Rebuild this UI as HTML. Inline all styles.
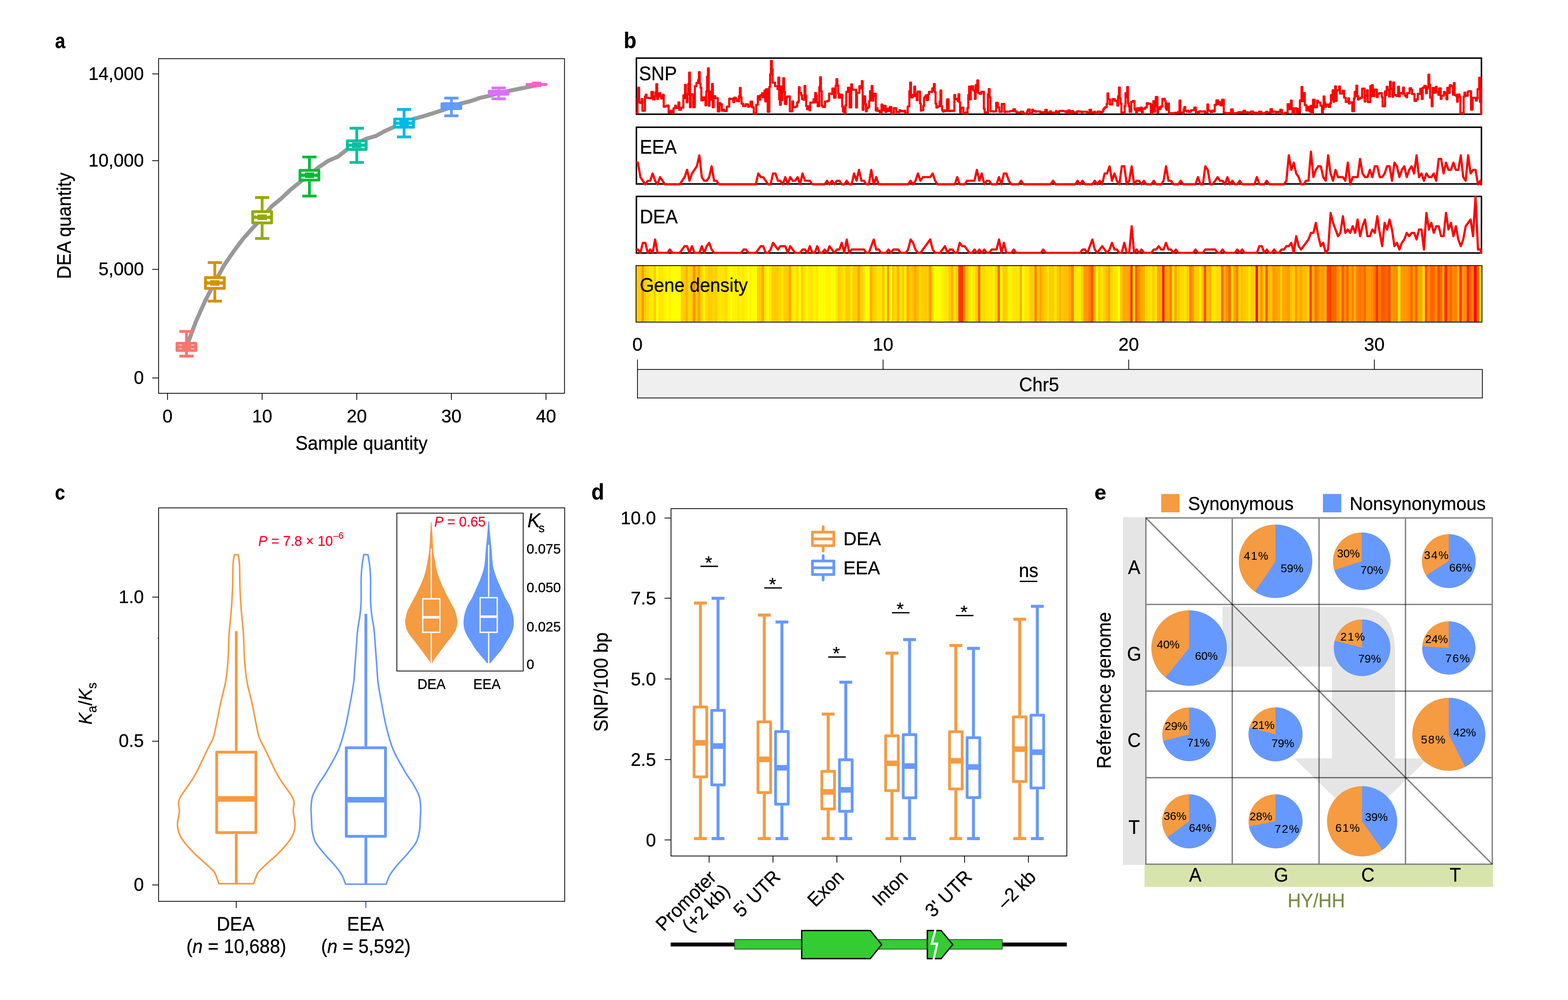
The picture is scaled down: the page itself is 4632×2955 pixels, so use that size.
<!DOCTYPE html>
<html lang="en"><head><meta charset="utf-8"><title>Figure</title>
<style>html,body{margin:0;padding:0;background:#fff}svg{display:block}text{font-family:'Liberation Sans', sans-serif;stroke-width:0.5px;stroke-linejoin:round}</style>
</head><body>
<svg width="4632" height="2955" viewBox="0 0 4632 2955">
<rect width="4632" height="2955" fill="#fff"/>
<!-- panel a -->
<text font-size="100" font-weight="bold" stroke="#000" transform="translate(162.6 141.9) scale(0.5453 0.6255)">a</text>
<path d="M550.8 1025 L578.8 950 L606.7 887.5 L634.6 834 L662.6 783 L690.5 742.5 L718.5 705 L746.4 674 L774.4 644 L802.3 610 L830.3 587 L858.2 560.6 L886.2 538 L914.1 516 L942.1 494 L970 475 L998 463 L1025.9 441 L1053.9 424 L1081.8 410 L1109.8 402 L1137.8 386.7 L1165.7 374.2 L1193.7 363.7 L1221.6 351.6 L1249.5 343.7 L1277.5 335.2 L1305.4 326.2 L1333.4 316.8 L1361.3 305.9 L1389.3 299.2 L1417.2 289.5 L1445.2 283.2 L1473.2 275.8 L1501.1 269.1 L1529 263.3 L1557 257.8 L1584.9 252" fill="none" stroke="#999999" stroke-width="12" stroke-linejoin="round" stroke-linecap="butt"/>
<g stroke="#F8766D" stroke-width="8.2" fill="none" stroke-linejoin="round">
<path d="M550.8 979.3V1010.2M550.8 1039.8V1052.3M529.8 979.3H571.8M529.8 1052.3H571.8"/>
<rect x="522.9" y="1014.3" width="55.8" height="21.4" fill="#fff"/>
<path d="M522.9 1023.4L536.8 1025L522.9 1026.6M578.7 1023.4L564.8 1025L578.7 1026.6"/>
<path d="M536.8 1025H564.8" stroke-width="16.4" stroke-linecap="butt"/>
</g>
<g stroke="#D39200" stroke-width="8.2" fill="none" stroke-linejoin="round">
<path d="M634.6 775.8V816.2M634.6 856.3V889.8M613.6 775.8H655.6M613.6 889.8H655.6"/>
<rect x="606.8" y="820.3" width="55.8" height="31.9" fill="#fff"/>
<path d="M606.8 834.6L620.6 836.2L606.8 837.9M662.5 834.6L648.6 836.2L662.5 837.9"/>
<path d="M620.6 836.2H648.6" stroke-width="16.4" stroke-linecap="butt"/>
</g>
<g stroke="#93AA00" stroke-width="8.2" fill="none" stroke-linejoin="round">
<path d="M774.4 583.6V621.3M774.4 662.8V704.7M753.4 583.6H795.4M753.4 704.7H795.4"/>
<rect x="746.5" y="625.4" width="55.8" height="33.3" fill="#fff"/>
<path d="M746.5 640.4L760.4 642L746.5 643.6M802.3 640.4L788.4 642L802.3 643.6"/>
<path d="M760.4 642H788.4" stroke-width="16.4" stroke-linecap="butt"/>
</g>
<g stroke="#00BA38" stroke-width="8.2" fill="none" stroke-linejoin="round">
<path d="M914.1 464V499.2M914.1 536.3V579.3M893.1 464H935.1M893.1 579.3H935.1"/>
<rect x="886.2" y="503.3" width="55.8" height="28.9" fill="#fff"/>
<path d="M886.2 516.1L900.1 517.8L886.2 519.4M942 516.1L928.1 517.8L942 519.4"/>
<path d="M900.1 517.8H928.1" stroke-width="16.4" stroke-linecap="butt"/>
</g>
<g stroke="#00C19F" stroke-width="8.2" fill="none" stroke-linejoin="round">
<path d="M1053.9 378.9V412.1M1053.9 445.7V480M1032.9 378.9H1074.9M1032.9 480H1074.9"/>
<rect x="1026" y="416.2" width="55.8" height="25.4" fill="#fff"/>
<path d="M1026 427.3L1039.9 428.9L1026 430.5M1081.8 427.3L1067.9 428.9L1081.8 430.5"/>
<path d="M1039.9 428.9H1067.9" stroke-width="16.4" stroke-linecap="butt"/>
</g>
<g stroke="#00B9E3" stroke-width="8.2" fill="none" stroke-linejoin="round">
<path d="M1193.7 323.4V347.7M1193.7 380V404.7M1172.7 323.4H1214.7M1172.7 404.7H1214.7"/>
<rect x="1165.8" y="351.8" width="55.8" height="24.1" fill="#fff"/>
<path d="M1165.8 362.2L1179.7 363.9L1165.8 365.5M1221.6 362.2L1207.7 363.9L1221.6 365.5"/>
<path d="M1179.7 363.9H1207.7" stroke-width="16.4" stroke-linecap="butt"/>
</g>
<g stroke="#619CFF" stroke-width="8.2" fill="none" stroke-linejoin="round">
<path d="M1333.4 289.8V302.3M1333.4 325V342.2M1312.4 289.8H1354.4M1312.4 342.2H1354.4"/>
<rect x="1305.5" y="306.4" width="55.8" height="14.5" fill="#fff"/>
<path d="M1305.5 312L1319.4 313.6L1305.5 315.2M1361.3 312L1347.4 313.6L1361.3 315.2"/>
<path d="M1319.4 313.6H1347.4" stroke-width="14.5" stroke-linecap="butt"/>
</g>
<g stroke="#DB72FB" stroke-width="8.2" fill="none" stroke-linejoin="round">
<path d="M1473.2 259.8V265.6M1473.2 282.4V291.8M1452.2 259.8H1494.2M1452.2 291.8H1494.2"/>
<rect x="1445.2" y="269.7" width="55.8" height="8.6" fill="#fff"/>
<rect x="1445.2" y="269.7" width="55.8" height="8.6" fill="#DB72FB"/>
</g>
<g stroke="#FF61C3" fill="#FF61C3" stroke-linejoin="round" stroke-linecap="round">
<path d="M1556.9 249.6H1612.9" stroke-width="8.6" fill="none"/>
<rect x="1571.2" y="241.4" width="27.4" height="16" stroke="none"/>
</g>
<rect x="468.5" y="173.4" width="1199.1" height="988.8" fill="none" stroke="#000" stroke-width="2.3"/>
<line x1="449.5" y1="218.4" x2="468.5" y2="218.4" stroke="#000" stroke-width="2.3"/>
<text x="425" y="235.6" font-size="53.5" text-anchor="end" stroke="#000">14,000</text>
<line x1="449.5" y1="474.9" x2="468.5" y2="474.9" stroke="#000" stroke-width="2.3"/>
<text x="425" y="492.1" font-size="53.5" text-anchor="end" stroke="#000">10,000</text>
<line x1="449.5" y1="796" x2="468.5" y2="796" stroke="#000" stroke-width="2.3"/>
<text x="425" y="813.2" font-size="53.5" text-anchor="end" stroke="#000">5,000</text>
<line x1="449.5" y1="1116.9" x2="468.5" y2="1116.9" stroke="#000" stroke-width="2.3"/>
<text x="425" y="1134.1" font-size="53.5" text-anchor="end" stroke="#000">0</text>
<line x1="494.9" y1="1162.2" x2="494.9" y2="1181.7" stroke="#000" stroke-width="2.3"/>
<text x="494.9" y="1248.2" font-size="53.5" text-anchor="middle" stroke="#000">0</text>
<line x1="774.4" y1="1162.2" x2="774.4" y2="1181.7" stroke="#000" stroke-width="2.3"/>
<text x="774.4" y="1248.2" font-size="53.5" text-anchor="middle" stroke="#000">10</text>
<line x1="1053.9" y1="1162.2" x2="1053.9" y2="1181.7" stroke="#000" stroke-width="2.3"/>
<text x="1053.9" y="1248.2" font-size="53.5" text-anchor="middle" stroke="#000">20</text>
<line x1="1333.4" y1="1162.2" x2="1333.4" y2="1181.7" stroke="#000" stroke-width="2.3"/>
<text x="1333.4" y="1248.2" font-size="53.5" text-anchor="middle" stroke="#000">30</text>
<line x1="1612.9" y1="1162.2" x2="1612.9" y2="1181.7" stroke="#000" stroke-width="2.3"/>
<text x="1612.9" y="1248.2" font-size="53.5" text-anchor="middle" stroke="#000">40</text>
<text font-size="56.8" text-anchor="middle" stroke="#000" transform="translate(1068 1328.5) scale(0.9588 1)">Sample quantity</text>
<text font-size="56.8" text-anchor="middle" stroke="#000" transform="translate(208.5 667) rotate(-90) scale(0.9588 1)">DEA quantity</text>
<!-- panel b -->
<text font-size="100" font-weight="bold" stroke="#000" transform="translate(1842.6 141.7) scale(0.6139 0.6653)">b</text>
<g fill="none" stroke="#FF0000" stroke-linejoin="round" stroke-linecap="round">
</g>
<rect x="1880" y="171.7" width="2496.3" height="165.8" fill="none" stroke="#000" stroke-width="4.4"/>
<rect x="1880" y="376" width="2496.3" height="167.6" fill="none" stroke="#000" stroke-width="4.4"/>
<rect x="1880" y="580.4" width="2496.3" height="167.2" fill="none" stroke="#000" stroke-width="4.4"/>
<g fill="none" stroke="#FF0000" stroke-linejoin="round" stroke-linecap="round">
<path d="M1882 333.3V333.3H1883.3V292.2H1885.7V259.2H1888.1V302.2H1890.5V304.2H1895.4V292.9H1897.8V327.2H1905.1V285.8H1907.5V279.5H1909.9V289H1917.2V290.1H1924.4V271.5H1929.2V294H1934.1V284.7H1936.5V272.8H1938.9V248.5H1941.3V292.5H1943.8V286H1946.2V275.7H1951V284.4H1953.4V291.1H1958.3V279.9H1960.7V315.4H1965.5V314H1970.4V311.9H1975.2V332.5H1980V328.1H1982.5V327.2H1984.9V333.9H1989.7V319.9H1994.5V312.2H1997V317.6H1999.4V319H2004.2V302.7H2006.6V324.4H2011.5V318.1H2018.7V281.7H2021.2V290.2H2023.6V250.6H2026V278.1H2028.4V302.4H2030.8V279.2H2033.2V247.9H2035.7V214.6H2038.1V316.8H2040.5V278.8H2047.8V316.7H2052.6V254.7H2057.4V245.2H2062.3V236.3H2064.7V213.1H2067.1V246.7H2069.5V259.3H2071.9V297H2074.4V287.8H2076.8V295.6H2079.2V287.6H2084V311.2H2086.5V270.1H2088.9V226.4H2091.3V201.9H2093.7V312.2H2096.1V270.5H2098.6V294.4H2101V280.5H2103.4V248.1H2105.8V317.2H2108.2V284.2H2113.1V290.1H2120.3V329.2H2125.2V304.7H2127.6V310H2130V308.1H2132.4V327.1H2134.8V324.1H2139.7V328.1H2146.9V315.1H2154.2V291.5H2159V293.1H2163.9V292H2166.3V302H2168.7V288.7H2173.5V292H2175.9V297.8H2180.8V299.2H2183.2V284H2185.6V259.9H2188V287.9H2190.5V306.4H2195.3V313.4H2202.6V308.2H2209.8V315.6H2212.2V314H2217.1V300.2H2221.9V317.1H2226.7V335.1H2234V309.6H2238.8V284.2H2243.7V294.6H2246.1V281.3H2250.9V275.5H2253.3V287.5H2258.2V267.7H2260.6V299.6H2263V263.7H2267.9V330.3H2272.7V256.9H2275.1V219.5H2277.5V179.9H2280V204.5H2282.4V244.3H2289.6V254.6H2296.9V263.2H2299.3V229.2H2301.7V293.8H2304.1V309.7H2306.6V255.6H2309V295.9H2311.4V269.4H2313.8V231.1H2316.2V271.2H2318.7V307.2H2323.5V287.1H2325.9V284.9H2333.2V328.8H2340.4V299.5H2342.8V317H2350.1V314.7H2354.9V303.5H2357.3V300.5H2359.8V257.6H2362.2V274.3H2367V281.3H2369.4V293.1H2374.3V294.7H2376.7V254H2379.1V282.5H2381.5V313.6H2384V322.6H2386.4V314.2H2391.2V326H2393.6V303.2H2403.3V293.4H2405.7V302.3H2408.1V274.7H2410.6V281.9H2413V302.4H2415.4V313.7H2420.2V257.2H2422.7V228H2425.1V269.7H2427.5V312H2429.9V316H2437.2V299.9H2444.4V297.8H2449.3V276.7H2456.5V277.2H2458.9V261.6H2463.8V288.7H2468.6V252.9H2471V233.9H2473.4V252.1H2475.9V276.7H2478.3V288.7H2483.1V279.5H2488V314.8H2490.4V330H2492.8V317.6H2495.2V335.1H2497.6V311H2500.1V271.4H2504.9V259.4H2509.7V317.5H2514.6V249.1H2517V262.4H2519.4V265.2H2529.1V317.7H2531.5V274.1H2538.7V254.6H2543.6V261.4H2546V239.7H2548.4V324.6H2550.8V304H2553.3V284.7H2555.7V306.9H2558.1V329.2H2560.5V319H2565.4V315.7H2567.8V298H2570.2V269.3H2572.6V296H2575V254.2H2577.4V297.5H2579.9V284.6H2582.3V277H2587.1V326.6H2589.5V319.5H2592V327.6H2599.2V335.1H2601.6V332.7H2604.1V308.9H2606.5V325.9H2611.3V312.6H2616.1V330.8H2618.6V321.2H2623.4V327.8H2628.2V316.2H2633.1V335.1H2640.3V319.5H2645.2V319.8H2647.6V331H2657.3V325.3H2659.7V328.6H2664.5V327.6H2666.9V329.2H2671.8V327.2H2674.2V334.1H2681.5V314.5H2686.3V268.8H2688.7V243.8H2691.1V287.6H2696V280.4H2698.4V284.1H2700.8V255.9H2703.2V278H2705.6V284.5H2708.1V296.2H2710.5V270.7H2717.7V305.1H2720.1V326.8H2722.6V325.5H2727.4V312.8H2729.8V288.6H2732.2V286.1H2734.7V281.5H2737.1V295.6H2741.9V279.1H2744.3V271.4H2749.2V271.5H2754V261.2H2756.4V265.6H2758.8V248.2H2761.3V271.9H2763.7V306.3H2766.1V317.9H2768.5V316.4H2770.9V314H2775.8V299.8H2778.2V267.3H2780.6V313.3H2783V325.6H2785.5V329.8H2787.9V326H2792.7V328.2H2797.5V293.7H2802.4V328.1H2809.6V326.6H2812.1V327.7H2819.3V280.6H2821.7V293H2826.6V291.9H2829V298.2H2831.4V278.5H2833.8V302.4H2836.2V332H2838.7V318.1H2845.9V334.3H2853.2V332.1H2855.6V335.1H2858V319.2H2860.4V280.6H2862.9V255.9H2865.3V293.7H2867.7V263H2870.1V254.8H2874.9V267.3H2879.8V291.9H2882.2V251.3H2884.6V270.5H2887V237.5H2889.5V274.5H2891.9V275.1H2894.3V277.1H2899.1V271.2H2906.4V321.4H2908.8V332.5H2913.6V331.9H2918.5V279.1H2920.9V263H2923.3V287.4H2925.7V328.5H2933V329.6H2937.8V329H2942.7V303.7H2947.5V317H2952.3V330.3H2959.6V307.2H2966.9V330.8H2971.7V329.8H2976.5V329.9H2981.4V329.4H2983.8V328.2H2993.5V322.6H2998.3V329.4H3003.1V332H3008V332.7H3010.4V333H3015.2V330H3022.5V335.1H3034.6V328H3037V323.6H3041.8V335.1H3049.1V323.8H3051.5V327H3053.9V328.2H3058.8V330.2H3061.2V329H3068.4V329.4H3073.3V332.7H3078.1V331.6H3087.8V324.7H3092.6V332.5H3099.9V331.6H3102.3V328.8H3104.7V333H3109.6V332.8H3114.4V334H3119.2V328.2H3121.6V334.2H3124.1V331.7H3128.9V327.9H3136.2V327.6H3141V328.5H3145.8V330.2H3148.3V328.8H3150.7V332.8H3153.1V333.9H3155.5V326.4H3160.3V333.9H3165.2V328.9H3167.6V327.8H3170V331.2H3172.4V332.3H3182.1V328.8H3187V329.8H3189.4V329.5H3194.2V331.3H3199V330.1H3211.1V333.5H3218.4V324.4H3223.2V332.9H3230.5V330.7H3232.9V330.1H3235.3V334.2H3237.7V334.4H3242.6V329.6H3249.8V332H3252.3V331.5H3257.1V328.8H3259.5V322.2H3261.9V319.3H3264.3V316.9H3269.2V306.7H3271.6V276.2H3274V294H3278.9V308.7H3286.1V292.9H3293.4V298.1H3300.6V312.1H3303V284.3H3305.5V258.6H3307.9V290.4H3310.3V305.5H3312.7V332.4H3320V334.1H3322.4V313H3324.8V275.1H3327.2V286.9H3329.7V257H3332.1V305H3334.5V314.2H3336.9V330.4H3341.7V301H3346.6V298.4H3351.4V321.4H3353.8V325.3H3356.3V335H3358.7V319.9H3363.5V326.7H3368.4V318.3H3373.2V335.1H3375.6V321.4H3382.9V317.4H3387.7V304.8H3392.5V306.9H3399.8V335.1H3404.6V309.5H3407.1V298.9H3409.5V330H3411.9V314.2H3414.3V286.7H3419.1V331.8H3421.6V317.3H3426.4V321.9H3428.8V314.6H3433.7V292H3440.9V298.4H3443.3V319.4H3445.7V324.4H3448.2V305.8H3453V335H3457.8V334.4H3465.1V334.7H3469.9V333.4H3474.8V333.8H3479.6V331.2H3484.4V297H3486.9V332.6H3494.1V335.1H3496.5V322.5H3499V316.1H3501.4V327.6H3506.2V329.4H3508.6V327.3H3511.1V330.3H3518.3V325.6H3528V317.8H3532.8V333.9H3535.2V331.6H3540.1V334.1H3542.5V329.2H3544.9V328.9H3549.8V329.8H3557V328.5H3559.4V333.2H3566.7V308.5H3569.1V326.7H3573.9V328H3576.4V331H3581.2V326.5H3583.6V329.5H3588.5V309.7H3593.3V296.6H3598.1V307.4H3600.5V301.5H3605.4V311.3H3610.2V294.7H3615.1V332.8H3619.9V334.7H3627.1V334.1H3636.8V323.3H3641.7V334.6H3646.5V334.3H3651.3V334.2H3656.2V332.8H3658.6V331.4H3665.8V332H3673.1V327.4H3675.5V327.2H3677.9V331.5H3685.2V332.3H3690V334.5H3694.9V329.7H3702.1V335.1H3707V333.1H3711.8V334.7H3719.1V330.2H3726.3V334.9H3731.2V335.1H3733.6V334.4H3738.4V332.1H3740.8V329.9H3743.2V332.7H3752.9V322.7H3757.8V331H3762.6V329.7H3767.4V329.9H3769.9V334.2H3774.7V330.4H3779.5V330.9H3781.9V324.3H3786.8V335.1H3796.5V333.1H3803.7V307.9H3808.5V322.3H3813.4V297H3815.8V320H3818.2V335.1H3823.1V320.2H3830.3V334.2H3832.7V322.1H3835.2V332.7H3840V296.7H3842.4V298.7H3844.8V256.8H3847.2V285.2H3849.7V298.7H3852.1V275.1H3854.5V310.9H3859.3V326.5H3864.2V316.2H3869V329.4H3871.4V312.6H3873.9V335.1H3878.7V294.6H3883.5V317H3890.8V297.3H3893.2V302.8H3900.5V311.8H3905.3V332.8H3907.7V322.4H3910.1V285.1H3912.6V303.3H3915V315.5H3917.4V308.8H3924.6V315.8H3929.5V305.2H3931.9V280.7H3934.3V293.4H3936.7V266.8H3939.2V300.5H3941.6V288.4H3944V255.1H3946.4V298H3948.8V266.7H3956.1V255.5H3958.5V276.5H3965.8V268.1H3970.6V288.5H3975.4V300.9H3982.7V290.6H3985.1V306H3987.5V302.3H3994.8V328.7H3999.6V290.6H4002V271.4H4004.5V284.7H4006.9V253.2H4009.3V284H4011.7V294.1H4014.1V290.9H4019V288.8H4023.8V261.8H4031.1V300H4033.5V282.5H4038.3V266.5H4040.7V301.6H4048V254.3H4050.4V284.3H4052.8V251.7H4055.3V283.9H4060.1V264.6H4067.3V286.8H4069.8V276.8H4074.6V275.1H4081.9V287.6H4084.3V314.2H4091.5V270.1H4094V280.4H4096.4V256.3H4098.8V265.5H4103.6V285.4H4106V241.4H4108.5V261.8H4113.3V285.8H4115.7V243.7H4118.1V280.1H4120.6V281.1H4125.4V284H4130.2V256H4132.7V284.7H4135.1V274.9H4142.3V277H4144.7V258.9H4147.2V276.5H4149.6V282.8H4154.4V287.5H4156.8V275.2H4164.1V260.8H4168.9V265H4171.3V278H4178.6V298.3H4183.4V293.6H4188.3V277.3H4195.5V262.4H4200.4V292.5H4202.8V258.9H4207.6V253.8H4212.5V275.8H4214.9V262.9H4217.3V258.3H4219.7V220.5H4222.1V249.4H4224.6V288.4H4229.4V314H4231.8V260.2H4236.7V273.9H4241.5V256.3H4243.9V271.9H4248.7V280.1H4251.2V261H4256V292.3H4258.4V282.6H4265.7V271.4H4268.1V275.8H4272.9V293.6H4275.4V259.3H4277.8V272.8H4280.2V274.6H4282.6V251.9H4287.4V255.2H4292.3V280.2H4294.7V245.4H4297.1V280.6H4302V284.5H4304.4V300.5H4306.8V279H4311.6V285.5H4314.1V334.9H4316.5V334.1H4321.3V335.1H4323.7V285.7H4326.1V273.8H4328.6V283H4335.8V270.9H4338.2V269.6H4345.5V324H4350.3V289.1H4355.2V288.9H4360V297.4H4362.4V291.6H4364.8V263.4H4367.3V262.7H4369.7V229.5H4372.1V301.2H4374.5V263.4H4375.3V337.3" stroke-width="6.2"/>
<path d="M1882.5 480.5 L1884.5 480.5 L1891.8 523.4 L1899 534.1 L1906.3 544.8 L1913.5 534.1 L1920.8 534.1 L1928 512.6 L1935.3 534.1 L1942.5 544.8 L1949.8 523.4 L1957.1 534.1 L1964.3 544.8 L1971.6 544.8 L1978.8 544.8 L1986.1 544.8 L1993.3 544.8 L2000.6 544.8 L2007.9 544.8 L2015.1 534.1 L2022.4 523.4 L2029.6 501.9 L2036.9 534.1 L2044.1 512.6 L2051.4 501.9 L2058.6 491.2 L2065.9 459 L2073.2 523.4 L2080.4 534.1 L2087.7 534.1 L2094.9 523.4 L2102.2 491.2 L2109.4 534.1 L2116.7 534.1 L2123.9 544.8 L2131.2 544.8 L2138.5 544.8 L2145.7 544.8 L2153 544.8 L2160.2 544.8 L2167.5 544.8 L2174.7 544.8 L2182 544.8 L2189.3 544.8 L2196.5 544.8 L2203.8 544.8 L2211 544.8 L2218.3 544.8 L2225.5 544.8 L2232.8 544.8 L2240 512.6 L2247.3 523.4 L2254.6 523.4 L2261.8 534.1 L2269.1 544.8 L2276.3 544.8 L2283.6 512.6 L2290.8 512.6 L2298.1 534.1 L2305.3 534.1 L2312.6 544.8 L2319.9 523.4 L2327.1 544.8 L2334.4 523.4 L2341.6 534.1 L2348.9 534.1 L2356.1 523.4 L2363.4 544.8 L2370.7 512.6 L2377.9 534.1 L2385.2 534.1 L2392.4 534.1 L2399.7 544.8 L2406.9 544.8 L2414.2 544.8 L2421.4 544.8 L2428.7 544.8 L2436 544.8 L2443.2 534.1 L2450.5 544.8 L2457.7 534.1 L2465 544.8 L2472.2 534.1 L2479.5 534.1 L2486.7 544.8 L2494 544.8 L2501.3 534.1 L2508.5 544.8 L2515.8 544.8 L2523 512.6 L2530.3 534.1 L2537.5 501.9 L2544.8 534.1 L2552.1 534.1 L2559.3 544.8 L2566.6 544.8 L2573.8 501.9 L2581.1 544.8 L2588.3 523.4 L2595.6 544.8 L2602.8 544.8 L2610.1 544.8 L2617.4 544.8 L2624.6 544.8 L2631.9 544.8 L2639.1 544.8 L2646.4 544.8 L2653.6 544.8 L2660.9 544.8 L2668.1 544.8 L2675.4 544.8 L2682.7 544.8 L2689.9 534.1 L2697.2 544.8 L2704.4 534.1 L2711.7 512.6 L2718.9 534.1 L2726.2 523.4 L2733.5 523.4 L2740.7 523.4 L2748 523.4 L2755.2 512.6 L2762.5 534.1 L2769.7 544.8 L2777 544.8 L2784.2 544.8 L2791.5 544.8 L2798.8 544.8 L2806 544.8 L2813.3 544.8 L2820.5 544.8 L2827.8 523.4 L2835 544.8 L2842.3 544.8 L2849.5 544.8 L2856.8 534.1 L2864.1 534.1 L2871.3 534.1 L2878.6 534.1 L2885.8 501.9 L2893.1 534.1 L2900.3 512.6 L2907.6 544.8 L2914.9 534.1 L2922.1 534.1 L2929.4 544.8 L2936.6 544.8 L2943.9 544.8 L2951.1 523.4 L2958.4 544.8 L2965.6 512.6 L2972.9 512.6 L2980.2 534.1 L2987.4 544.8 L2994.7 544.8 L3001.9 544.8 L3009.2 544.8 L3016.4 534.1 L3023.7 544.8 L3030.9 544.8 L3038.2 544.8 L3045.5 544.8 L3052.7 544.8 L3060 544.8 L3067.2 544.8 L3074.5 544.8 L3081.7 544.8 L3089 544.8 L3096.3 544.8 L3103.5 544.8 L3110.8 534.1 L3118 544.8 L3125.3 544.8 L3132.5 544.8 L3139.8 544.8 L3147 544.8 L3154.3 544.8 L3161.6 544.8 L3168.8 544.8 L3176.1 544.8 L3183.3 534.1 L3190.6 544.8 L3197.8 534.1 L3205.1 544.8 L3212.3 544.8 L3219.6 544.8 L3226.9 544.8 L3234.1 534.1 L3241.4 544.8 L3248.6 534.1 L3255.9 544.8 L3263.1 512.6 L3270.4 512.6 L3277.7 491.2 L3284.9 534.1 L3292.2 512.6 L3299.4 534.1 L3306.7 544.8 L3313.9 491.2 L3321.2 491.2 L3328.4 544.8 L3335.7 534.1 L3343 491.2 L3350.2 544.8 L3357.5 534.1 L3364.7 534.1 L3372 544.8 L3379.2 534.1 L3386.5 544.8 L3393.7 544.8 L3401 544.8 L3408.3 534.1 L3415.5 544.8 L3422.8 544.8 L3430 544.8 L3437.3 534.1 L3444.5 491.2 L3451.8 534.1 L3459.1 534.1 L3466.3 544.8 L3473.6 544.8 L3480.8 544.8 L3488.1 534.1 L3495.3 544.8 L3502.6 544.8 L3509.8 544.8 L3517.1 544.8 L3524.4 544.8 L3531.6 544.8 L3538.9 523.4 L3546.1 544.8 L3553.4 544.8 L3560.6 491.2 L3567.9 501.9 L3575.1 544.8 L3582.4 544.8 L3589.7 534.1 L3596.9 523.4 L3604.2 534.1 L3611.4 534.1 L3618.7 544.8 L3625.9 523.4 L3633.2 544.8 L3640.5 534.1 L3647.7 544.8 L3655 544.8 L3662.2 534.1 L3669.5 544.8 L3676.7 544.8 L3684 544.8 L3691.2 544.8 L3698.5 544.8 L3705.8 544.8 L3713 523.4 L3720.3 544.8 L3727.5 544.8 L3734.8 544.8 L3742 534.1 L3749.3 544.8 L3756.5 544.8 L3763.8 544.8 L3771.1 544.8 L3778.3 544.8 L3785.6 544.8 L3792.8 544.8 L3800.1 534.1 L3807.3 459 L3814.6 501.9 L3821.9 480.5 L3829.1 512.6 L3836.4 523.4 L3843.6 544.8 L3850.9 544.8 L3858.1 534.1 L3865.4 534.1 L3872.6 448.3 L3879.9 523.4 L3887.2 501.9 L3894.4 491.2 L3901.7 491.2 L3908.9 523.4 L3916.2 534.1 L3923.4 459 L3930.7 512.6 L3937.9 534.1 L3945.2 501.9 L3952.5 523.4 L3959.7 523.4 L3967 523.4 L3974.2 534.1 L3981.5 480.5 L3988.7 544.8 L3996 523.4 L4003.3 523.4 L4010.5 523.4 L4017.8 469.8 L4025 512.6 L4032.3 523.4 L4039.5 523.4 L4046.8 501.9 L4054 523.4 L4061.3 491.2 L4068.6 491.2 L4075.8 523.4 L4083.1 523.4 L4090.3 512.6 L4097.6 491.2 L4104.8 491.2 L4112.1 534.1 L4119.3 480.5 L4126.6 491.2 L4133.9 523.4 L4141.1 501.9 L4148.4 491.2 L4155.6 523.4 L4162.9 501.9 L4170.1 491.2 L4177.4 512.6 L4184.7 459 L4191.9 523.4 L4199.2 512.6 L4206.4 534.1 L4213.7 512.6 L4220.9 523.4 L4228.2 523.4 L4235.4 512.6 L4242.7 534.1 L4250 469.8 L4257.2 469.8 L4264.5 512.6 L4271.7 480.5 L4279 501.9 L4286.2 501.9 L4293.5 480.5 L4300.7 501.9 L4308 501.9 L4315.3 459 L4322.5 523.4 L4329.8 534.1 L4337 459 L4344.3 512.6 L4351.5 501.9 L4358.8 501.9 L4366.1 544.8 L4373.3 534.1 L4375.3 544.8" stroke-width="6.4"/>
<path d="M1882.5 737.3 L1884.5 737.3 L1891.8 747.1 L1899 717.6 L1906.3 717.6 L1913.5 747.1 L1920.8 737.3 L1928 747.1 L1935.3 707.7 L1942.5 747.1 L1949.8 747.1 L1957.1 747.1 L1964.3 747.1 L1971.6 747.1 L1978.8 737.3 L1986.1 747.1 L1993.3 747.1 L2000.6 747.1 L2007.9 747.1 L2015.1 737.3 L2022.4 727.4 L2029.6 727.4 L2036.9 747.1 L2044.1 727.4 L2051.4 747.1 L2058.6 747.1 L2065.9 747.1 L2073.2 727.4 L2080.4 747.1 L2087.7 727.4 L2094.9 717.6 L2102.2 737.3 L2109.4 747.1 L2116.7 747.1 L2123.9 747.1 L2131.2 747.1 L2138.5 747.1 L2145.7 747.1 L2153 747.1 L2160.2 747.1 L2167.5 747.1 L2174.7 747.1 L2182 747.1 L2189.3 747.1 L2196.5 737.3 L2203.8 737.3 L2211 747.1 L2218.3 747.1 L2225.5 747.1 L2232.8 747.1 L2240 737.3 L2247.3 727.4 L2254.6 727.4 L2261.8 747.1 L2269.1 747.1 L2276.3 737.3 L2283.6 717.6 L2290.8 727.4 L2298.1 737.3 L2305.3 727.4 L2312.6 727.4 L2319.9 727.4 L2327.1 747.1 L2334.4 727.4 L2341.6 737.3 L2348.9 747.1 L2356.1 747.1 L2363.4 747.1 L2370.7 737.3 L2377.9 737.3 L2385.2 747.1 L2392.4 727.4 L2399.7 747.1 L2406.9 747.1 L2414.2 727.4 L2421.4 747.1 L2428.7 747.1 L2436 737.3 L2443.2 747.1 L2450.5 727.4 L2457.7 737.3 L2465 747.1 L2472.2 737.3 L2479.5 737.3 L2486.7 717.6 L2494 747.1 L2501.3 707.7 L2508.5 747.1 L2515.8 737.3 L2523 737.3 L2530.3 737.3 L2537.5 737.3 L2544.8 737.3 L2552.1 737.3 L2559.3 747.1 L2566.6 747.1 L2573.8 727.4 L2581.1 707.7 L2588.3 737.3 L2595.6 737.3 L2602.8 747.1 L2610.1 747.1 L2617.4 747.1 L2624.6 737.3 L2631.9 747.1 L2639.1 737.3 L2646.4 737.3 L2653.6 737.3 L2660.9 747.1 L2668.1 747.1 L2675.4 747.1 L2682.7 737.3 L2689.9 707.7 L2697.2 717.6 L2704.4 737.3 L2711.7 747.1 L2718.9 747.1 L2726.2 737.3 L2733.5 727.4 L2740.7 717.6 L2748 707.7 L2755.2 737.3 L2762.5 747.1 L2769.7 747.1 L2777 747.1 L2784.2 737.3 L2791.5 727.4 L2798.8 747.1 L2806 737.3 L2813.3 737.3 L2820.5 747.1 L2827.8 747.1 L2835 717.6 L2842.3 727.4 L2849.5 727.4 L2856.8 737.3 L2864.1 747.1 L2871.3 747.1 L2878.6 737.3 L2885.8 747.1 L2893.1 737.3 L2900.3 747.1 L2907.6 737.3 L2914.9 747.1 L2922.1 747.1 L2929.4 737.3 L2936.6 737.3 L2943.9 737.3 L2951.1 707.7 L2958.4 747.1 L2965.6 717.6 L2972.9 747.1 L2980.2 747.1 L2987.4 747.1 L2994.7 737.3 L3001.9 747.1 L3009.2 747.1 L3016.4 747.1 L3023.7 747.1 L3030.9 747.1 L3038.2 747.1 L3045.5 747.1 L3052.7 747.1 L3060 747.1 L3067.2 747.1 L3074.5 747.1 L3081.7 737.3 L3089 747.1 L3096.3 747.1 L3103.5 747.1 L3110.8 747.1 L3118 747.1 L3125.3 747.1 L3132.5 747.1 L3139.8 747.1 L3147 747.1 L3154.3 747.1 L3161.6 747.1 L3168.8 747.1 L3176.1 747.1 L3183.3 747.1 L3190.6 747.1 L3197.8 737.3 L3205.1 737.3 L3212.3 747.1 L3219.6 727.4 L3226.9 707.7 L3234.1 737.3 L3241.4 747.1 L3248.6 737.3 L3255.9 727.4 L3263.1 737.3 L3270.4 747.1 L3277.7 737.3 L3284.9 717.6 L3292.2 737.3 L3299.4 737.3 L3306.7 747.1 L3313.9 747.1 L3321.2 717.6 L3328.4 747.1 L3335.7 747.1 L3343 668.4 L3350.2 747.1 L3357.5 737.3 L3364.7 747.1 L3372 737.3 L3379.2 747.1 L3386.5 747.1 L3393.7 747.1 L3401 747.1 L3408.3 737.3 L3415.5 737.3 L3422.8 727.4 L3430 737.3 L3437.3 737.3 L3444.5 717.6 L3451.8 737.3 L3459.1 737.3 L3466.3 747.1 L3473.6 737.3 L3480.8 747.1 L3488.1 747.1 L3495.3 747.1 L3502.6 747.1 L3509.8 747.1 L3517.1 747.1 L3524.4 747.1 L3531.6 737.3 L3538.9 747.1 L3546.1 747.1 L3553.4 747.1 L3560.6 737.3 L3567.9 737.3 L3575.1 737.3 L3582.4 737.3 L3589.7 737.3 L3596.9 747.1 L3604.2 747.1 L3611.4 737.3 L3618.7 747.1 L3625.9 747.1 L3633.2 747.1 L3640.5 747.1 L3647.7 747.1 L3655 737.3 L3662.2 747.1 L3669.5 737.3 L3676.7 747.1 L3684 747.1 L3691.2 747.1 L3698.5 747.1 L3705.8 747.1 L3713 747.1 L3720.3 727.4 L3727.5 727.4 L3734.8 747.1 L3742 737.3 L3749.3 747.1 L3756.5 747.1 L3763.8 737.3 L3771.1 747.1 L3778.3 747.1 L3785.6 737.3 L3792.8 737.3 L3800.1 727.4 L3807.3 727.4 L3814.6 717.6 L3821.9 747.1 L3829.1 697.9 L3836.4 727.4 L3843.6 737.3 L3850.9 727.4 L3858.1 717.6 L3865.4 707.7 L3872.6 688.1 L3879.9 688.1 L3887.2 658.5 L3894.4 697.9 L3901.7 727.4 L3908.9 717.6 L3916.2 747.1 L3923.4 737.3 L3930.7 629 L3937.9 658.5 L3945.2 678.2 L3952.5 697.9 L3959.7 688.1 L3967 638.9 L3974.2 688.1 L3981.5 678.2 L3988.7 688.1 L3996 668.4 L4003.3 688.1 L4010.5 648.7 L4017.8 697.9 L4025 668.4 L4032.3 648.7 L4039.5 697.9 L4046.8 697.9 L4054 678.2 L4061.3 688.1 L4068.6 638.9 L4075.8 688.1 L4083.1 727.4 L4090.3 658.5 L4097.6 678.2 L4104.8 648.7 L4112.1 678.2 L4119.3 727.4 L4126.6 717.6 L4133.9 737.3 L4141.1 717.6 L4148.4 707.7 L4155.6 688.1 L4162.9 697.9 L4170.1 688.1 L4177.4 688.1 L4184.7 707.7 L4191.9 678.2 L4199.2 678.2 L4206.4 737.3 L4213.7 629 L4220.9 678.2 L4228.2 658.5 L4235.4 688.1 L4242.7 668.4 L4250 668.4 L4257.2 697.9 L4264.5 697.9 L4271.7 629 L4279 678.2 L4286.2 658.5 L4293.5 697.9 L4300.7 668.4 L4308 707.7 L4315.3 727.4 L4322.5 707.7 L4329.8 668.4 L4337 658.5 L4344.3 648.7 L4351.5 697.9 L4358.8 581 L4366.1 737.3 L4373.3 737.3 L4375.3 747.1" stroke-width="6.4"/>
</g>
<text font-size="56.8" stroke="#000" transform="translate(1887.5 236.7) scale(0.9588 1)">SNP</text>
<text font-size="56.8" stroke="#000" transform="translate(1890 453.5) scale(0.9588 1)">EEA</text>
<text font-size="56.8" stroke="#000" transform="translate(1890 659.5) scale(0.9588 1)">DEA</text>
<g shape-rendering="crispEdges">
<rect x="1880" y="786" width="14.8" height="164.8" fill="#FFCC00"/>
<rect x="1894.5" y="786" width="7.6" height="164.8" fill="#FF9900"/>
<rect x="1901.8" y="786" width="7.6" height="164.8" fill="#FFCC00"/>
<rect x="1909" y="786" width="7.6" height="164.8" fill="#FFD900"/>
<rect x="1916.3" y="786" width="14.8" height="164.8" fill="#FFE600"/>
<rect x="1930.8" y="786" width="7.6" height="164.8" fill="#FFCC00"/>
<rect x="1938" y="786" width="7.6" height="164.8" fill="#FFFF00"/>
<rect x="1945.3" y="786" width="14.8" height="164.8" fill="#FFE600"/>
<rect x="1959.8" y="786" width="7.6" height="164.8" fill="#FFF200"/>
<rect x="1967.1" y="786" width="7.6" height="164.8" fill="#FFFF00"/>
<rect x="1974.3" y="786" width="7.6" height="164.8" fill="#FFF200"/>
<rect x="1981.6" y="786" width="29.3" height="164.8" fill="#FFFF00"/>
<rect x="2010.6" y="786" width="14.8" height="164.8" fill="#FFCC00"/>
<rect x="2025.1" y="786" width="7.6" height="164.8" fill="#FFB200"/>
<rect x="2032.4" y="786" width="7.6" height="164.8" fill="#FFD900"/>
<rect x="2039.6" y="786" width="7.6" height="164.8" fill="#FFCC00"/>
<rect x="2046.9" y="786" width="7.6" height="164.8" fill="#FF8C00"/>
<rect x="2054.1" y="786" width="7.6" height="164.8" fill="#FFCC00"/>
<rect x="2061.4" y="786" width="7.6" height="164.8" fill="#FFA600"/>
<rect x="2068.7" y="786" width="7.6" height="164.8" fill="#FFD900"/>
<rect x="2075.9" y="786" width="7.6" height="164.8" fill="#FFF200"/>
<rect x="2083.2" y="786" width="7.6" height="164.8" fill="#FFD900"/>
<rect x="2090.4" y="786" width="14.8" height="164.8" fill="#FFCC00"/>
<rect x="2104.9" y="786" width="7.6" height="164.8" fill="#FFD900"/>
<rect x="2112.2" y="786" width="7.6" height="164.8" fill="#FFCC00"/>
<rect x="2119.4" y="786" width="22.1" height="164.8" fill="#FFE600"/>
<rect x="2141.2" y="786" width="7.6" height="164.8" fill="#FFD900"/>
<rect x="2148.5" y="786" width="7.6" height="164.8" fill="#FFF200"/>
<rect x="2155.7" y="786" width="7.6" height="164.8" fill="#FFFF00"/>
<rect x="2163" y="786" width="14.8" height="164.8" fill="#FFF200"/>
<rect x="2177.5" y="786" width="7.6" height="164.8" fill="#FFE600"/>
<rect x="2184.8" y="786" width="7.6" height="164.8" fill="#FFF200"/>
<rect x="2192" y="786" width="7.6" height="164.8" fill="#FFE600"/>
<rect x="2199.3" y="786" width="7.6" height="164.8" fill="#FFF200"/>
<rect x="2206.5" y="786" width="7.6" height="164.8" fill="#FFFF00"/>
<rect x="2213.8" y="786" width="7.6" height="164.8" fill="#FFF200"/>
<rect x="2221" y="786" width="14.8" height="164.8" fill="#FFFF00"/>
<rect x="2235.5" y="786" width="14.8" height="164.8" fill="#FFCC00"/>
<rect x="2250.1" y="786" width="7.6" height="164.8" fill="#FFA600"/>
<rect x="2257.3" y="786" width="7.6" height="164.8" fill="#FFE600"/>
<rect x="2264.6" y="786" width="7.6" height="164.8" fill="#FFFF00"/>
<rect x="2271.8" y="786" width="7.6" height="164.8" fill="#FFE600"/>
<rect x="2279.1" y="786" width="22.1" height="164.8" fill="#FFCC00"/>
<rect x="2300.8" y="786" width="7.6" height="164.8" fill="#FFD900"/>
<rect x="2308.1" y="786" width="7.6" height="164.8" fill="#FFE600"/>
<rect x="2315.4" y="786" width="14.8" height="164.8" fill="#FFCC00"/>
<rect x="2329.9" y="786" width="7.6" height="164.8" fill="#FFA600"/>
<rect x="2337.1" y="786" width="7.6" height="164.8" fill="#FFE600"/>
<rect x="2344.4" y="786" width="7.6" height="164.8" fill="#FFF200"/>
<rect x="2351.6" y="786" width="7.6" height="164.8" fill="#FFD900"/>
<rect x="2358.9" y="786" width="7.6" height="164.8" fill="#FFFF00"/>
<rect x="2366.2" y="786" width="7.6" height="164.8" fill="#FFCC00"/>
<rect x="2373.4" y="786" width="7.6" height="164.8" fill="#FFE600"/>
<rect x="2380.7" y="786" width="7.6" height="164.8" fill="#FFF200"/>
<rect x="2387.9" y="786" width="14.8" height="164.8" fill="#FFE600"/>
<rect x="2402.4" y="786" width="7.6" height="164.8" fill="#FFF200"/>
<rect x="2409.7" y="786" width="7.6" height="164.8" fill="#FFE600"/>
<rect x="2416.9" y="786" width="22.1" height="164.8" fill="#FFFF00"/>
<rect x="2438.7" y="786" width="14.8" height="164.8" fill="#FFF200"/>
<rect x="2453.2" y="786" width="14.8" height="164.8" fill="#FFFF00"/>
<rect x="2467.7" y="786" width="7.6" height="164.8" fill="#FFE600"/>
<rect x="2475" y="786" width="7.6" height="164.8" fill="#FFCC00"/>
<rect x="2482.2" y="786" width="7.6" height="164.8" fill="#FFD900"/>
<rect x="2489.5" y="786" width="7.6" height="164.8" fill="#FFE600"/>
<rect x="2496.8" y="786" width="14.8" height="164.8" fill="#FFCC00"/>
<rect x="2511.3" y="786" width="7.6" height="164.8" fill="#FFE600"/>
<rect x="2518.5" y="786" width="14.8" height="164.8" fill="#FFCC00"/>
<rect x="2533" y="786" width="7.6" height="164.8" fill="#FFA600"/>
<rect x="2540.3" y="786" width="7.6" height="164.8" fill="#FFCC00"/>
<rect x="2547.6" y="786" width="7.6" height="164.8" fill="#FFE600"/>
<rect x="2554.8" y="786" width="14.8" height="164.8" fill="#FFFF00"/>
<rect x="2569.3" y="786" width="7.6" height="164.8" fill="#FFB200"/>
<rect x="2576.6" y="786" width="7.6" height="164.8" fill="#FFCC00"/>
<rect x="2583.8" y="786" width="7.6" height="164.8" fill="#FFD900"/>
<rect x="2591.1" y="786" width="14.8" height="164.8" fill="#FFE600"/>
<rect x="2605.6" y="786" width="7.6" height="164.8" fill="#FFBF00"/>
<rect x="2612.9" y="786" width="7.6" height="164.8" fill="#FFFF00"/>
<rect x="2620.1" y="786" width="7.6" height="164.8" fill="#FF9900"/>
<rect x="2627.4" y="786" width="7.6" height="164.8" fill="#FFFF00"/>
<rect x="2634.6" y="786" width="7.6" height="164.8" fill="#FFCC00"/>
<rect x="2641.9" y="786" width="7.6" height="164.8" fill="#FFD900"/>
<rect x="2649.1" y="786" width="7.6" height="164.8" fill="#FFB200"/>
<rect x="2656.4" y="786" width="7.6" height="164.8" fill="#FFE600"/>
<rect x="2663.6" y="786" width="7.6" height="164.8" fill="#FFCC00"/>
<rect x="2670.9" y="786" width="7.6" height="164.8" fill="#FFF200"/>
<rect x="2678.2" y="786" width="7.6" height="164.8" fill="#FFA600"/>
<rect x="2685.4" y="786" width="7.6" height="164.8" fill="#FFCC00"/>
<rect x="2692.7" y="786" width="7.6" height="164.8" fill="#FFBF00"/>
<rect x="2699.9" y="786" width="7.6" height="164.8" fill="#FFA600"/>
<rect x="2707.2" y="786" width="7.6" height="164.8" fill="#FFBF00"/>
<rect x="2714.4" y="786" width="7.6" height="164.8" fill="#FFD900"/>
<rect x="2721.7" y="786" width="22.1" height="164.8" fill="#FFCC00"/>
<rect x="2743.5" y="786" width="7.6" height="164.8" fill="#FF9900"/>
<rect x="2750.7" y="786" width="7.6" height="164.8" fill="#FFD900"/>
<rect x="2758" y="786" width="22.1" height="164.8" fill="#FFFF00"/>
<rect x="2779.7" y="786" width="7.6" height="164.8" fill="#FFF200"/>
<rect x="2787" y="786" width="14.8" height="164.8" fill="#FFE600"/>
<rect x="2801.5" y="786" width="7.6" height="164.8" fill="#FFCC00"/>
<rect x="2808.8" y="786" width="7.6" height="164.8" fill="#FFB200"/>
<rect x="2816" y="786" width="7.6" height="164.8" fill="#FFE600"/>
<rect x="2823.3" y="786" width="7.6" height="164.8" fill="#FFCC00"/>
<rect x="2830.5" y="786" width="14.8" height="164.8" fill="#FF3300"/>
<rect x="2845" y="786" width="7.6" height="164.8" fill="#FF8C00"/>
<rect x="2852.3" y="786" width="7.6" height="164.8" fill="#FFBF00"/>
<rect x="2859.6" y="786" width="7.6" height="164.8" fill="#FFE600"/>
<rect x="2866.8" y="786" width="7.6" height="164.8" fill="#FFF200"/>
<rect x="2874.1" y="786" width="7.6" height="164.8" fill="#FFE600"/>
<rect x="2881.3" y="786" width="7.6" height="164.8" fill="#FFCC00"/>
<rect x="2888.6" y="786" width="7.6" height="164.8" fill="#FF6600"/>
<rect x="2895.8" y="786" width="7.6" height="164.8" fill="#FFE600"/>
<rect x="2903.1" y="786" width="7.6" height="164.8" fill="#FFD900"/>
<rect x="2910.4" y="786" width="22.1" height="164.8" fill="#FFE600"/>
<rect x="2932.1" y="786" width="7.6" height="164.8" fill="#FFF200"/>
<rect x="2939.4" y="786" width="7.6" height="164.8" fill="#FFCC00"/>
<rect x="2946.6" y="786" width="7.6" height="164.8" fill="#FF6600"/>
<rect x="2953.9" y="786" width="7.6" height="164.8" fill="#FFFF00"/>
<rect x="2961.1" y="786" width="14.8" height="164.8" fill="#FFCC00"/>
<rect x="2975.7" y="786" width="14.8" height="164.8" fill="#FFF200"/>
<rect x="2990.2" y="786" width="22.1" height="164.8" fill="#FFE600"/>
<rect x="3011.9" y="786" width="7.6" height="164.8" fill="#FFB200"/>
<rect x="3019.2" y="786" width="7.6" height="164.8" fill="#FFFF00"/>
<rect x="3026.4" y="786" width="14.8" height="164.8" fill="#FFE600"/>
<rect x="3041" y="786" width="14.8" height="164.8" fill="#FFCC00"/>
<rect x="3055.5" y="786" width="7.6" height="164.8" fill="#FF8000"/>
<rect x="3062.7" y="786" width="7.6" height="164.8" fill="#FFCC00"/>
<rect x="3070" y="786" width="7.6" height="164.8" fill="#FFA600"/>
<rect x="3077.2" y="786" width="7.6" height="164.8" fill="#FFBF00"/>
<rect x="3084.5" y="786" width="7.6" height="164.8" fill="#FFCC00"/>
<rect x="3091.8" y="786" width="7.6" height="164.8" fill="#FFE600"/>
<rect x="3099" y="786" width="14.8" height="164.8" fill="#FFCC00"/>
<rect x="3113.5" y="786" width="7.6" height="164.8" fill="#FFE600"/>
<rect x="3120.8" y="786" width="7.6" height="164.8" fill="#FFCC00"/>
<rect x="3128" y="786" width="7.6" height="164.8" fill="#FFB200"/>
<rect x="3135.3" y="786" width="7.6" height="164.8" fill="#FFCC00"/>
<rect x="3142.5" y="786" width="14.8" height="164.8" fill="#FFBF00"/>
<rect x="3157.1" y="786" width="7.6" height="164.8" fill="#FFA600"/>
<rect x="3164.3" y="786" width="7.6" height="164.8" fill="#FF8000"/>
<rect x="3171.6" y="786" width="14.8" height="164.8" fill="#FFE600"/>
<rect x="3186.1" y="786" width="7.6" height="164.8" fill="#FFF200"/>
<rect x="3193.3" y="786" width="7.6" height="164.8" fill="#FFCC00"/>
<rect x="3200.6" y="786" width="14.8" height="164.8" fill="#FF9900"/>
<rect x="3215.1" y="786" width="7.6" height="164.8" fill="#FF8000"/>
<rect x="3222.4" y="786" width="7.6" height="164.8" fill="#FF5900"/>
<rect x="3229.6" y="786" width="7.6" height="164.8" fill="#FFB200"/>
<rect x="3236.9" y="786" width="7.6" height="164.8" fill="#FFF200"/>
<rect x="3244.1" y="786" width="7.6" height="164.8" fill="#FFCC00"/>
<rect x="3251.4" y="786" width="7.6" height="164.8" fill="#FFE600"/>
<rect x="3258.6" y="786" width="7.6" height="164.8" fill="#FFCC00"/>
<rect x="3265.9" y="786" width="7.6" height="164.8" fill="#FFBF00"/>
<rect x="3273.2" y="786" width="7.6" height="164.8" fill="#FFA600"/>
<rect x="3280.4" y="786" width="7.6" height="164.8" fill="#FFD900"/>
<rect x="3287.7" y="786" width="14.8" height="164.8" fill="#FFE600"/>
<rect x="3302.2" y="786" width="7.6" height="164.8" fill="#FFFF00"/>
<rect x="3309.4" y="786" width="7.6" height="164.8" fill="#FFBF00"/>
<rect x="3316.7" y="786" width="22.1" height="164.8" fill="#FFA600"/>
<rect x="3338.5" y="786" width="7.6" height="164.8" fill="#FF3300"/>
<rect x="3345.7" y="786" width="7.6" height="164.8" fill="#FFE600"/>
<rect x="3353" y="786" width="7.6" height="164.8" fill="#FF5900"/>
<rect x="3360.2" y="786" width="7.6" height="164.8" fill="#FF8C00"/>
<rect x="3367.5" y="786" width="7.6" height="164.8" fill="#FFA600"/>
<rect x="3374.7" y="786" width="7.6" height="164.8" fill="#FFB200"/>
<rect x="3382" y="786" width="14.8" height="164.8" fill="#FFD900"/>
<rect x="3396.5" y="786" width="7.6" height="164.8" fill="#FFE600"/>
<rect x="3403.8" y="786" width="7.6" height="164.8" fill="#FFCC00"/>
<rect x="3411" y="786" width="7.6" height="164.8" fill="#FFE600"/>
<rect x="3418.3" y="786" width="7.6" height="164.8" fill="#FFA600"/>
<rect x="3425.5" y="786" width="7.6" height="164.8" fill="#FFB200"/>
<rect x="3432.8" y="786" width="7.6" height="164.8" fill="#FF1A00"/>
<rect x="3440" y="786" width="14.8" height="164.8" fill="#FFA600"/>
<rect x="3454.6" y="786" width="7.6" height="164.8" fill="#FF8000"/>
<rect x="3461.8" y="786" width="7.6" height="164.8" fill="#FFE600"/>
<rect x="3469.1" y="786" width="7.6" height="164.8" fill="#FFA600"/>
<rect x="3476.3" y="786" width="7.6" height="164.8" fill="#FFCC00"/>
<rect x="3483.6" y="786" width="14.8" height="164.8" fill="#FFD900"/>
<rect x="3498.1" y="786" width="7.6" height="164.8" fill="#FFE600"/>
<rect x="3505.3" y="786" width="7.6" height="164.8" fill="#FFCC00"/>
<rect x="3512.6" y="786" width="7.6" height="164.8" fill="#FF8000"/>
<rect x="3519.9" y="786" width="7.6" height="164.8" fill="#FF9900"/>
<rect x="3527.1" y="786" width="14.8" height="164.8" fill="#FFCC00"/>
<rect x="3541.6" y="786" width="7.6" height="164.8" fill="#FFF200"/>
<rect x="3548.9" y="786" width="7.6" height="164.8" fill="#FFBF00"/>
<rect x="3556.1" y="786" width="7.6" height="164.8" fill="#FF4C00"/>
<rect x="3563.4" y="786" width="7.6" height="164.8" fill="#FFBF00"/>
<rect x="3570.6" y="786" width="7.6" height="164.8" fill="#FFB200"/>
<rect x="3577.9" y="786" width="14.8" height="164.8" fill="#FFE600"/>
<rect x="3592.4" y="786" width="14.8" height="164.8" fill="#FFD900"/>
<rect x="3606.9" y="786" width="7.6" height="164.8" fill="#FF6600"/>
<rect x="3614.2" y="786" width="7.6" height="164.8" fill="#FFB200"/>
<rect x="3621.4" y="786" width="7.6" height="164.8" fill="#FF8C00"/>
<rect x="3628.7" y="786" width="7.6" height="164.8" fill="#FF6600"/>
<rect x="3636" y="786" width="7.6" height="164.8" fill="#FFE600"/>
<rect x="3643.2" y="786" width="7.6" height="164.8" fill="#FFA600"/>
<rect x="3650.5" y="786" width="7.6" height="164.8" fill="#FF8000"/>
<rect x="3657.7" y="786" width="7.6" height="164.8" fill="#FFD900"/>
<rect x="3665" y="786" width="7.6" height="164.8" fill="#FFBF00"/>
<rect x="3672.2" y="786" width="14.8" height="164.8" fill="#FFCC00"/>
<rect x="3686.7" y="786" width="7.6" height="164.8" fill="#FFE600"/>
<rect x="3694" y="786" width="14.8" height="164.8" fill="#FFCC00"/>
<rect x="3708.5" y="786" width="7.6" height="164.8" fill="#FF0000"/>
<rect x="3715.8" y="786" width="7.6" height="164.8" fill="#FFCC00"/>
<rect x="3723" y="786" width="7.6" height="164.8" fill="#FF8C00"/>
<rect x="3730.3" y="786" width="7.6" height="164.8" fill="#FFCC00"/>
<rect x="3737.5" y="786" width="7.6" height="164.8" fill="#FF5900"/>
<rect x="3744.8" y="786" width="14.8" height="164.8" fill="#FFBF00"/>
<rect x="3759.3" y="786" width="7.6" height="164.8" fill="#FF9900"/>
<rect x="3766.6" y="786" width="14.8" height="164.8" fill="#FFA600"/>
<rect x="3781.1" y="786" width="7.6" height="164.8" fill="#FFCC00"/>
<rect x="3788.3" y="786" width="14.8" height="164.8" fill="#FFA600"/>
<rect x="3802.8" y="786" width="7.6" height="164.8" fill="#FF9900"/>
<rect x="3810.1" y="786" width="7.6" height="164.8" fill="#FFBF00"/>
<rect x="3817.4" y="786" width="7.6" height="164.8" fill="#FFCC00"/>
<rect x="3824.6" y="786" width="7.6" height="164.8" fill="#FF9900"/>
<rect x="3831.9" y="786" width="7.6" height="164.8" fill="#FFBF00"/>
<rect x="3839.1" y="786" width="7.6" height="164.8" fill="#FFA600"/>
<rect x="3846.4" y="786" width="14.8" height="164.8" fill="#FFBF00"/>
<rect x="3860.9" y="786" width="7.6" height="164.8" fill="#FFCC00"/>
<rect x="3868.1" y="786" width="7.6" height="164.8" fill="#FF4000"/>
<rect x="3875.4" y="786" width="7.6" height="164.8" fill="#FFB200"/>
<rect x="3882.7" y="786" width="7.6" height="164.8" fill="#FF7300"/>
<rect x="3889.9" y="786" width="7.6" height="164.8" fill="#FF8C00"/>
<rect x="3897.2" y="786" width="7.6" height="164.8" fill="#FFA600"/>
<rect x="3904.4" y="786" width="7.6" height="164.8" fill="#FF9900"/>
<rect x="3911.7" y="786" width="7.6" height="164.8" fill="#FFB200"/>
<rect x="3918.9" y="786" width="14.8" height="164.8" fill="#FF4000"/>
<rect x="3933.4" y="786" width="14.8" height="164.8" fill="#FF6600"/>
<rect x="3948" y="786" width="7.6" height="164.8" fill="#FF8C00"/>
<rect x="3955.2" y="786" width="7.6" height="164.8" fill="#FFA600"/>
<rect x="3962.5" y="786" width="7.6" height="164.8" fill="#FF5900"/>
<rect x="3969.7" y="786" width="7.6" height="164.8" fill="#FF8C00"/>
<rect x="3977" y="786" width="7.6" height="164.8" fill="#FF6600"/>
<rect x="3984.2" y="786" width="7.6" height="164.8" fill="#FFA600"/>
<rect x="3991.5" y="786" width="7.6" height="164.8" fill="#FF8000"/>
<rect x="3998.8" y="786" width="7.6" height="164.8" fill="#FFB200"/>
<rect x="4006" y="786" width="7.6" height="164.8" fill="#FF8000"/>
<rect x="4013.3" y="786" width="7.6" height="164.8" fill="#FF7300"/>
<rect x="4020.5" y="786" width="7.6" height="164.8" fill="#FF8000"/>
<rect x="4027.8" y="786" width="7.6" height="164.8" fill="#FF6600"/>
<rect x="4035" y="786" width="14.8" height="164.8" fill="#FF9900"/>
<rect x="4049.5" y="786" width="7.6" height="164.8" fill="#FF8C00"/>
<rect x="4056.8" y="786" width="7.6" height="164.8" fill="#FF7300"/>
<rect x="4064.1" y="786" width="7.6" height="164.8" fill="#FF3300"/>
<rect x="4071.3" y="786" width="7.6" height="164.8" fill="#FF8000"/>
<rect x="4078.6" y="786" width="14.8" height="164.8" fill="#FF5900"/>
<rect x="4093.1" y="786" width="7.6" height="164.8" fill="#FF6600"/>
<rect x="4100.3" y="786" width="7.6" height="164.8" fill="#FF4C00"/>
<rect x="4107.6" y="786" width="7.6" height="164.8" fill="#FFA600"/>
<rect x="4114.8" y="786" width="14.8" height="164.8" fill="#FF8C00"/>
<rect x="4129.4" y="786" width="7.6" height="164.8" fill="#FFE600"/>
<rect x="4136.6" y="786" width="22.1" height="164.8" fill="#FF9900"/>
<rect x="4158.4" y="786" width="7.6" height="164.8" fill="#FF8C00"/>
<rect x="4165.6" y="786" width="7.6" height="164.8" fill="#FF6600"/>
<rect x="4172.9" y="786" width="7.6" height="164.8" fill="#FF9900"/>
<rect x="4180.2" y="786" width="7.6" height="164.8" fill="#FF6600"/>
<rect x="4187.4" y="786" width="14.8" height="164.8" fill="#FFA600"/>
<rect x="4201.9" y="786" width="7.6" height="164.8" fill="#FFE600"/>
<rect x="4209.2" y="786" width="7.6" height="164.8" fill="#FF4C00"/>
<rect x="4216.4" y="786" width="7.6" height="164.8" fill="#FF8C00"/>
<rect x="4223.7" y="786" width="14.8" height="164.8" fill="#FF6600"/>
<rect x="4238.2" y="786" width="7.6" height="164.8" fill="#FF8C00"/>
<rect x="4245.5" y="786" width="7.6" height="164.8" fill="#FF4C00"/>
<rect x="4252.7" y="786" width="7.6" height="164.8" fill="#FF6600"/>
<rect x="4260" y="786" width="7.6" height="164.8" fill="#FFA600"/>
<rect x="4267.2" y="786" width="7.6" height="164.8" fill="#FF2600"/>
<rect x="4274.5" y="786" width="7.6" height="164.8" fill="#FF8000"/>
<rect x="4281.7" y="786" width="7.6" height="164.8" fill="#FF6600"/>
<rect x="4289" y="786" width="7.6" height="164.8" fill="#FF8C00"/>
<rect x="4296.2" y="786" width="7.6" height="164.8" fill="#FF8000"/>
<rect x="4303.5" y="786" width="7.6" height="164.8" fill="#FFB200"/>
<rect x="4310.8" y="786" width="7.6" height="164.8" fill="#FF3300"/>
<rect x="4318" y="786" width="7.6" height="164.8" fill="#FF9900"/>
<rect x="4325.3" y="786" width="7.6" height="164.8" fill="#FF8C00"/>
<rect x="4332.5" y="786" width="7.6" height="164.8" fill="#FF2600"/>
<rect x="4339.8" y="786" width="7.6" height="164.8" fill="#FF6600"/>
<rect x="4347" y="786" width="7.6" height="164.8" fill="#FF8000"/>
<rect x="4354.3" y="786" width="7.6" height="164.8" fill="#FF0000"/>
<rect x="4361.6" y="786" width="7.6" height="164.8" fill="#FF6600"/>
<rect x="4368.8" y="786" width="8.3" height="164.8" fill="#FFD900"/>
</g>
<rect x="1878.9" y="784.9" width="2499" height="167" fill="none" stroke="#000" stroke-width="2.4"/>
<text font-size="56.5" stroke="#000" transform="translate(1890 862.3) scale(0.9588 1)">Gene density</text>
<rect x="1883.1" y="1091.7" width="2495.9" height="84.3" fill="#EFEFEF" stroke="#000" stroke-width="2.2"/>
<line x1="1883.1" y1="1062.5" x2="1883.1" y2="1091.7" stroke="#000" stroke-width="2.2"/>
<text x="1883.1" y="1036.3" font-size="54.5" text-anchor="middle" stroke="#000">0</text>
<line x1="2608.7" y1="1062.5" x2="2608.7" y2="1091.7" stroke="#000" stroke-width="2.2"/>
<text x="2608.7" y="1036.3" font-size="54.5" text-anchor="middle" stroke="#000">10</text>
<line x1="3334.3" y1="1062.5" x2="3334.3" y2="1091.7" stroke="#000" stroke-width="2.2"/>
<text x="3334.3" y="1036.3" font-size="54.5" text-anchor="middle" stroke="#000">20</text>
<line x1="4059.9" y1="1062.5" x2="4059.9" y2="1091.7" stroke="#000" stroke-width="2.2"/>
<text x="4059.9" y="1036.3" font-size="54.5" text-anchor="middle" stroke="#000">30</text>
<text font-size="56.8" text-anchor="middle" stroke="#000" transform="translate(3069.5 1156.3) scale(0.9588 1)">Chr5</text>
<!-- panel c -->
<text font-size="100" font-weight="bold" stroke="#000" transform="translate(162.3 1476.1) scale(0.5423 0.6200)">c</text>
<path d="M703.5 1639C704.2 1643.9 706.7 1652.1 707.6 1668.3C708.5 1684.6 708 1713.9 708.9 1736.7C709.8 1759.5 711.3 1782.2 713 1805C714.7 1827.8 717.7 1850.6 719.2 1873.4C720.7 1896.1 720.3 1918.9 721.9 1941.7C723.5 1964.5 725 1987.3 728.8 2010C732.5 2032.8 739.6 2055.6 744.5 2078.4C749.4 2101.2 754.5 2129.6 758.1 2146.7C761.8 2163.8 762.1 2169.5 766.3 2180.9C770.6 2192.3 775.1 2198 783.4 2215C791.7 2232.1 807.2 2266.3 816.2 2283.4C825.2 2300.5 829.9 2306.2 837.4 2317.6C844.9 2328.9 856.1 2342.6 861.3 2351.7C866.6 2360.8 868 2364.8 868.8 2372.2C869.6 2379.6 865.7 2385.9 866.1 2396.1C866.6 2406.4 871.4 2422.9 871.6 2433.7C871.8 2444.6 870.8 2452 867.5 2461.1C864.2 2470.2 859.5 2478.2 851.8 2488.4C844 2498.7 832.4 2511.2 821 2522.6C809.6 2534 793.1 2547.6 783.4 2556.7C773.7 2565.9 767.8 2570.4 762.9 2577.2C758 2584.1 756.3 2592 754 2597.7C751.8 2603.4 750.1 2609.1 749.3 2611.4L646.7 2611.4L646.7 2611.4C645.9 2609.1 644.2 2603.4 642 2597.7C639.7 2592 638 2584.1 633.1 2577.2C628.2 2570.4 622.3 2565.9 612.6 2556.7C602.9 2547.6 586.4 2534 575 2522.6C563.6 2511.2 552 2498.7 544.2 2488.4C536.5 2478.2 531.8 2470.2 528.5 2461.1C525.2 2452 524.2 2444.6 524.4 2433.7C524.6 2422.9 529.4 2406.4 529.9 2396.1C530.3 2385.9 526.4 2379.6 527.2 2372.2C528 2364.8 529.4 2360.8 534.7 2351.7C539.9 2342.6 551.1 2328.9 558.6 2317.6C566.1 2306.2 570.8 2300.5 579.8 2283.4C588.8 2266.3 604.3 2232.1 612.6 2215C620.9 2198 625.4 2192.3 629.7 2180.9C633.9 2169.5 634.2 2163.8 637.9 2146.7C641.5 2129.6 646.6 2101.2 651.5 2078.4C656.4 2055.6 663.5 2032.8 667.2 2010C671 1987.3 672.5 1964.5 674.1 1941.7C675.7 1918.9 675.3 1896.1 676.8 1873.4C678.3 1850.6 681.3 1827.8 683 1805C684.7 1782.2 686.2 1759.5 687.1 1736.7C688 1713.9 687.5 1684.6 688.4 1668.3C689.3 1652.1 691.8 1643.9 692.5 1639Z" fill="none" stroke="#F59B42" stroke-width="4.6" stroke-linejoin="round"/>
<path d="M1087 1639C1087.7 1643.9 1090.5 1657.7 1091.7 1668.3C1093 1678.9 1094 1691.1 1094.5 1702.5C1095 1713.9 1094.8 1723.9 1094.8 1736.7C1094.9 1749.4 1094.2 1765.4 1094.8 1779C1095.4 1792.7 1096.6 1805.4 1098.3 1818.7C1099.9 1832 1103.1 1845.3 1104.7 1859C1106.4 1872.7 1107.1 1887.5 1108.1 1900.7C1109.2 1913.9 1110 1925.7 1110.9 1938.3C1111.8 1950.8 1112.6 1962.5 1113.6 1975.9C1114.6 1989.2 1114.7 2001.1 1117 2018.2C1119.3 2035.3 1123.3 2057 1127.3 2078.4C1131.3 2099.8 1135.2 2123.9 1140.9 2146.7C1146.6 2169.5 1151.9 2192.3 1161.4 2215C1171 2237.8 1188.4 2266.3 1198.3 2283.4C1208.3 2300.5 1214.3 2306.2 1220.9 2317.6C1227.5 2328.9 1234.3 2340.3 1238 2351.7C1241.6 2363.1 1242.2 2374.5 1242.8 2385.9C1243.3 2397.3 1242 2408.7 1241.4 2420.1C1240.8 2431.5 1241.3 2442.8 1239.3 2454.2C1237.4 2465.6 1235.7 2477 1229.8 2488.4C1223.9 2499.8 1213.3 2511.2 1203.8 2522.6C1194.4 2534 1181.6 2546.5 1173.1 2556.7C1164.5 2567 1157.5 2576.1 1152.6 2584.1C1147.7 2592 1145.6 2599.8 1143.7 2604.6C1141.7 2609.4 1141.4 2611.4 1140.9 2612.8L1020.7 2612.8L1020.7 2612.8C1020.2 2611.4 1019.9 2609.4 1017.9 2604.6C1016 2599.8 1013.9 2592 1009 2584.1C1004.1 2576.1 997.1 2567 988.5 2556.7C980 2546.5 967.2 2534 957.8 2522.6C948.3 2511.2 937.7 2499.8 931.8 2488.4C925.9 2477 924.2 2465.6 922.3 2454.2C920.3 2442.8 920.8 2431.5 920.2 2420.1C919.6 2408.7 918.3 2397.3 918.8 2385.9C919.4 2374.5 920 2363.1 923.6 2351.7C927.3 2340.3 934.1 2328.9 940.7 2317.6C947.3 2306.2 953.3 2300.5 963.3 2283.4C973.2 2266.3 990.6 2237.8 1000.2 2215C1009.7 2192.3 1015 2169.5 1020.7 2146.7C1026.4 2123.9 1030.3 2099.8 1034.3 2078.4C1038.3 2057 1042.3 2035.3 1044.6 2018.2C1046.9 2001.1 1047 1989.2 1048 1975.9C1049 1962.5 1049.8 1950.8 1050.7 1938.3C1051.6 1925.7 1052.4 1913.9 1053.5 1900.7C1054.5 1887.5 1055.2 1872.7 1056.9 1859C1058.5 1845.3 1061.7 1832 1063.3 1818.7C1065 1805.4 1066.2 1792.7 1066.8 1779C1067.4 1765.4 1066.7 1749.4 1066.8 1736.7C1066.8 1723.9 1066.6 1713.9 1067.1 1702.5C1067.6 1691.1 1068.6 1678.9 1069.9 1668.3C1071.1 1657.7 1073.9 1643.9 1074.6 1639Z" fill="none" stroke="#6699FF" stroke-width="4.6" stroke-linejoin="round"/>
<g stroke="#F59B42" fill="none" stroke-linejoin="round">
<path d="M698 1865.2V2218.5M698 2464.5V2613.5" stroke-width="8.2"/>
<rect x="640.1" y="2222.6" width="115.8" height="237.8" stroke-width="8.2"/>
<path d="M640 2360.8H756" stroke-width="16.6"/>
</g>
<g stroke="#6699FF" fill="none" stroke-linejoin="round">
<path d="M1080.8 1813.9V2205.5M1080.8 2475.4V2613.5" stroke-width="8.2"/>
<rect x="1022.9" y="2209.6" width="115.8" height="261.7" stroke-width="8.2"/>
<path d="M1022.8 2363.3H1138.8" stroke-width="16.6"/>
</g>
<text font-size="42.2" fill="#FF0A33" stroke="#FF0A33" transform="translate(763 1613.3) scale(0.9588 1)"><tspan font-style="italic">P</tspan> = 7.8 × 10<tspan dx="1.6" dy="-21.5" font-size="28.2">–6</tspan></text>
<rect x="1172.3" y="1516.3" width="373.3" height="466.6" fill="#fff" stroke="#000" stroke-width="2.3"/>
<path d="M1275.1 1543.1C1275.3 1546.6 1275.8 1557.6 1276.2 1564.2C1276.7 1570.8 1277.3 1576.6 1277.7 1582.8C1278.1 1589 1278.1 1595.2 1278.5 1601.3C1278.8 1607.5 1279.1 1613.7 1279.6 1619.9C1280.1 1626.1 1280.5 1632.3 1281.4 1638.5C1282.4 1644.6 1284 1650.8 1285.1 1657C1286.2 1663.2 1286.9 1669.4 1288.1 1675.6C1289.3 1681.7 1290.7 1687.9 1292.6 1694.1C1294.4 1700.3 1296.9 1706.5 1299.2 1712.7C1301.6 1718.9 1303.9 1725 1306.7 1731.2C1309.4 1737.4 1312.5 1743.6 1315.6 1749.8C1318.7 1756 1321.9 1762.2 1325.2 1768.3C1328.5 1774.5 1332 1780.7 1335.2 1786.9C1338.5 1793.1 1342.2 1799.3 1344.5 1805.5C1346.9 1811.6 1348.2 1818.4 1349.3 1824C1350.5 1829.6 1351.7 1832.7 1351.2 1838.9C1350.7 1845 1349 1854.3 1346.4 1861.1C1343.7 1867.9 1339.6 1873.5 1335.2 1879.7C1330.9 1885.9 1325.2 1892.1 1320.4 1898.2C1315.6 1904.4 1311.3 1910.6 1306.7 1916.8C1302 1923 1297.1 1929.2 1292.6 1935.4C1288 1941.5 1282 1949.9 1279.6 1953.9C1277.1 1957.9 1278 1958.5 1277.7 1959.5L1270.3 1959.5L1270.3 1959.5C1270 1958.5 1270.9 1957.9 1268.4 1953.9C1266 1949.9 1260 1941.5 1255.4 1935.4C1250.9 1929.2 1246 1923 1241.3 1916.8C1236.7 1910.6 1232.4 1904.4 1227.6 1898.2C1222.8 1892.1 1217.1 1885.9 1212.8 1879.7C1208.4 1873.5 1204.3 1867.9 1201.6 1861.1C1199 1854.3 1197.3 1845 1196.8 1838.9C1196.3 1832.7 1197.5 1829.6 1198.7 1824C1199.8 1818.4 1201.1 1811.6 1203.5 1805.5C1205.8 1799.3 1209.5 1793.1 1212.8 1786.9C1216 1780.7 1219.5 1774.5 1222.8 1768.3C1226.1 1762.2 1229.3 1756 1232.4 1749.8C1235.5 1743.6 1238.6 1737.4 1241.3 1731.2C1244.1 1725 1246.4 1718.9 1248.8 1712.7C1251.1 1706.5 1253.6 1700.3 1255.4 1694.1C1257.3 1687.9 1258.7 1681.7 1259.9 1675.6C1261.1 1669.4 1261.8 1663.2 1262.9 1657C1264 1650.8 1265.6 1644.6 1266.6 1638.5C1267.5 1632.3 1267.9 1626.1 1268.4 1619.9C1268.9 1613.7 1269.2 1607.5 1269.5 1601.3C1269.9 1595.2 1269.9 1589 1270.3 1582.8C1270.7 1576.6 1271.3 1570.8 1271.8 1564.2C1272.2 1557.6 1272.7 1546.6 1272.9 1543.1Z" fill="#F59B42"/>
<path d="M1445.1 1541.2C1445.3 1545.1 1446.1 1557.3 1446.6 1564.2C1447.1 1571.2 1447.5 1576.6 1448.1 1582.8C1448.6 1589 1449.3 1595.2 1449.9 1601.3C1450.5 1607.5 1451.2 1613.7 1451.8 1619.9C1452.3 1626.1 1452.8 1632.3 1453.2 1638.5C1453.7 1644.6 1454.1 1650.8 1454.7 1657C1455.4 1663.2 1455.7 1669.4 1457 1675.6C1458.2 1681.7 1460.2 1687.9 1462.2 1694.1C1464.1 1700.3 1466.4 1706.5 1468.8 1712.7C1471.3 1718.9 1474.3 1725 1477 1731.2C1479.7 1737.4 1482.4 1743.6 1485.2 1749.8C1487.9 1756 1490.4 1762.2 1493.7 1768.3C1497 1774.5 1501.7 1780.7 1504.8 1786.9C1507.9 1793.1 1510.3 1799.3 1512.3 1805.5C1514.2 1811.6 1515.8 1817.8 1516.7 1824C1517.6 1830.2 1518.1 1836.4 1517.8 1842.6C1517.5 1848.8 1516.7 1854.9 1514.9 1861.1C1513 1867.3 1510 1873.5 1506.7 1879.7C1503.4 1885.9 1498.7 1892.1 1494.8 1898.2C1491 1904.4 1488 1910.6 1483.7 1916.8C1479.4 1923 1474 1929.2 1468.8 1935.4C1463.7 1941.5 1456.2 1949.9 1452.9 1953.9C1449.6 1957.9 1449.8 1958.5 1449.2 1959.5L1438 1959.5L1438 1959.5C1437.4 1958.5 1437.6 1957.9 1434.3 1953.9C1431 1949.9 1423.5 1941.5 1418.4 1935.4C1413.2 1929.2 1407.8 1923 1403.5 1916.8C1399.2 1910.6 1396.2 1904.4 1392.4 1898.2C1388.5 1892.1 1383.8 1885.9 1380.5 1879.7C1377.2 1873.5 1374.2 1867.3 1372.3 1861.1C1370.5 1854.9 1369.7 1848.8 1369.4 1842.6C1369.1 1836.4 1369.6 1830.2 1370.5 1824C1371.4 1817.8 1373 1811.6 1374.9 1805.5C1376.9 1799.3 1379.3 1793.1 1382.4 1786.9C1385.5 1780.7 1390.2 1774.5 1393.5 1768.3C1396.8 1762.2 1399.3 1756 1402 1749.8C1404.8 1743.6 1407.5 1737.4 1410.2 1731.2C1412.9 1725 1415.9 1718.9 1418.4 1712.7C1420.8 1706.5 1423.1 1700.3 1425 1694.1C1427 1687.9 1429 1681.7 1430.2 1675.6C1431.5 1669.4 1431.8 1663.2 1432.5 1657C1433.1 1650.8 1433.5 1644.6 1434 1638.5C1434.4 1632.3 1434.9 1626.1 1435.4 1619.9C1436 1613.7 1436.7 1607.5 1437.3 1601.3C1437.9 1595.2 1438.6 1589 1439.1 1582.8C1439.7 1576.6 1440.1 1571.2 1440.6 1564.2C1441.1 1557.3 1441.9 1545.1 1442.1 1541.2Z" fill="#6699FF"/>
<g stroke="#fff" fill="none" stroke-linejoin="round">
<path d="M1274 1621V1767.6M1274 1870.4V1959.8" stroke-width="3.8"/>
<rect x="1248.7" y="1769.5" width="50.6" height="99" stroke-width="3.8"/>
<path d="M1249 1824H1299" stroke-width="7.6"/>
</g>
<g stroke="#fff" fill="none" stroke-linejoin="round">
<path d="M1443.6 1609.9V1764.3M1443.6 1870.4V1959.8" stroke-width="3.8"/>
<rect x="1418.3" y="1766.2" width="50.6" height="102.3" stroke-width="3.8"/>
<path d="M1418.6 1822.2H1468.6" stroke-width="7.6"/>
</g>
<text font-size="42.2" fill="#FF0A33" stroke="#FF0A33" transform="translate(1283 1556.2) scale(0.9588 1)"><tspan font-style="italic">P</tspan> = 0.65</text>
<text font-size="59.5" stroke="#000" transform="translate(1558 1557.5) scale(0.9588 1)"><tspan font-style="italic">K</tspan><tspan dx="-5.2" dy="15" font-size="37.5">s</tspan></text>
<text x="1555.5" y="1635.5" font-size="40.5" stroke="#000">0.075</text>
<text x="1555.5" y="1749.8" font-size="40.5" stroke="#000">0.050</text>
<text x="1555.5" y="1865.6" font-size="40.5" stroke="#000">0.025</text>
<text x="1555.5" y="1976.9" font-size="40.5" stroke="#000">0</text>
<text font-size="42.2" text-anchor="middle" stroke="#000" transform="translate(1274.7 2035.6) scale(0.9588 1)">DEA</text>
<text font-size="42.2" text-anchor="middle" stroke="#000" transform="translate(1438.5 2035.6) scale(0.9588 1)">EEA</text>
<rect x="468.5" y="1500.8" width="1199.6" height="1162.7" fill="none" stroke="#000" stroke-width="2.3"/>
<line x1="449.5" y1="1764.5" x2="468.5" y2="1764.5" stroke="#000" stroke-width="2.3"/>
<text x="425" y="1781.5" font-size="53.5" text-anchor="end" stroke="#000">1.0</text>
<line x1="449.5" y1="2190.3" x2="468.5" y2="2190.3" stroke="#000" stroke-width="2.3"/>
<text x="425" y="2207.3" font-size="53.5" text-anchor="end" stroke="#000">0.5</text>
<line x1="449.5" y1="2615" x2="468.5" y2="2615" stroke="#000" stroke-width="2.3"/>
<text x="425" y="2632" font-size="53.5" text-anchor="end" stroke="#000">0</text>
<line x1="466" y1="1885.7" x2="468.5" y2="1885.7" stroke="#000" stroke-width="2.3"/>
<line x1="698" y1="2663.5" x2="698" y2="2683" stroke="#000" stroke-width="2.3"/>
<text font-size="56.8" text-anchor="middle" stroke="#000" transform="translate(696 2750) scale(0.9588 1)">DEA</text>
<text font-size="56.8" text-anchor="middle" stroke="#000" transform="translate(698 2816) scale(0.9588 1)">(<tspan font-style="italic">n</tspan> = 10,688)</text>
<line x1="1080.8" y1="2663.5" x2="1080.8" y2="2683" stroke="#1a3a8a" stroke-width="2.3"/>
<text font-size="56.8" text-anchor="middle" stroke="#000" transform="translate(1079.8 2750) scale(0.9588 1)">EEA</text>
<text font-size="56.8" text-anchor="middle" stroke="#000" transform="translate(1080.8 2816) scale(0.9588 1)">(<tspan font-style="italic">n</tspan> = 5,592)</text>
<text font-size="55.3" text-anchor="middle" stroke="#000" transform="translate(270.5 2079) rotate(-90) scale(0.9588 1)"><tspan font-style="italic">K</tspan><tspan dy="14" font-size="38.6">a</tspan><tspan dy="-14">/</tspan><tspan font-style="italic">K</tspan><tspan dy="14" font-size="38.6">s</tspan></text>
<!-- panel d -->
<text font-size="100" font-weight="bold" stroke="#000" transform="translate(1746.9 1476.2) scale(0.6198 0.6694)">d</text>
<g stroke="#F59B42" fill="none" stroke-linejoin="round">
<path d="M2069.1 1782V2085.1M2069.1 2299.8V2478M2050.1 1782H2088.1M2050.1 2478H2088.1" stroke-width="8.8"/>
<rect x="2050.4" y="2089.2" width="37.4" height="206.5" stroke-width="8.2"/>
<path d="M2049.1 2195H2089.1" stroke-width="16.4"/>
</g>
<g stroke="#6699FF" fill="none" stroke-linejoin="round">
<path d="M2121.1 1767.9V2095.1M2121.1 2323.5V2478M2102.1 1767.9H2140.1M2102.1 2478H2140.1" stroke-width="8.8"/>
<rect x="2102.4" y="2099.2" width="37.4" height="220.2" stroke-width="8.2"/>
<path d="M2101.1 2204.5H2141.1" stroke-width="16.4"/>
</g>
<g stroke="#F59B42" fill="none" stroke-linejoin="round">
<path d="M2257.8 1817.5V2128.9M2257.8 2346.3V2478M2238.8 1817.5H2276.8M2238.8 2478H2276.8" stroke-width="8.8"/>
<rect x="2239.1" y="2133" width="37.4" height="209.2" stroke-width="8.2"/>
<path d="M2237.8 2243.7H2277.8" stroke-width="16.4"/>
</g>
<g stroke="#6699FF" fill="none" stroke-linejoin="round">
<path d="M2309.8 1838V2157.6M2309.8 2380.5V2478M2290.8 1838H2328.8M2290.8 2478H2328.8" stroke-width="8.8"/>
<rect x="2291.1" y="2161.7" width="37.4" height="214.7" stroke-width="8.2"/>
<path d="M2289.8 2268.8H2329.8" stroke-width="16.4"/>
</g>
<g stroke="#F59B42" fill="none" stroke-linejoin="round">
<path d="M2446.5 2110.2V2275.2M2446.5 2394.6V2478M2427.5 2110.2H2465.5M2427.5 2478H2465.5" stroke-width="8.8"/>
<rect x="2427.8" y="2279.3" width="37.4" height="111.2" stroke-width="8.2"/>
<path d="M2426.5 2340H2466.5" stroke-width="16.4"/>
</g>
<g stroke="#6699FF" fill="none" stroke-linejoin="round">
<path d="M2498.5 2015.8V2241M2498.5 2401.5V2478M2479.5 2015.8H2517.5M2479.5 2478H2517.5" stroke-width="8.8"/>
<rect x="2479.8" y="2245.1" width="37.4" height="152.3" stroke-width="8.2"/>
<path d="M2478.5 2334H2518.5" stroke-width="16.4"/>
</g>
<g stroke="#F59B42" fill="none" stroke-linejoin="round">
<path d="M2634.9 1930V2170.3M2634.9 2340.4V2478M2615.9 1930H2653.9M2615.9 2478H2653.9" stroke-width="8.8"/>
<rect x="2616.2" y="2174.4" width="37.4" height="161.9" stroke-width="8.2"/>
<path d="M2614.9 2255.6H2654.9" stroke-width="16.4"/>
</g>
<g stroke="#6699FF" fill="none" stroke-linejoin="round">
<path d="M2686.9 1890V2166.7M2686.9 2361.8V2478M2667.9 1890H2705.9M2667.9 2478H2705.9" stroke-width="8.8"/>
<rect x="2668.2" y="2170.8" width="37.4" height="186.9" stroke-width="8.2"/>
<path d="M2666.9 2263.8H2706.9" stroke-width="16.4"/>
</g>
<g stroke="#F59B42" fill="none" stroke-linejoin="round">
<path d="M2823.6 1907.4V2158M2823.6 2335.4V2478M2804.6 1907.4H2842.6M2804.6 2478H2842.6" stroke-width="8.8"/>
<rect x="2804.9" y="2162.1" width="37.4" height="169.2" stroke-width="8.2"/>
<path d="M2803.6 2248.3H2843.6" stroke-width="16.4"/>
</g>
<g stroke="#6699FF" fill="none" stroke-linejoin="round">
<path d="M2875.6 1916V2175.8M2875.6 2360.9V2478M2856.6 1916H2894.6M2856.6 2478H2894.6" stroke-width="8.8"/>
<rect x="2856.9" y="2179.9" width="37.4" height="176.9" stroke-width="8.2"/>
<path d="M2855.6 2266.5H2895.6" stroke-width="16.4"/>
</g>
<g stroke="#F59B42" fill="none" stroke-linejoin="round">
<path d="M3012.3 1829.9V2114.3M3012.3 2313.5V2478M2993.3 1829.9H3031.3M2993.3 2478H3031.3" stroke-width="8.8"/>
<rect x="2993.6" y="2118.4" width="37.4" height="191" stroke-width="8.2"/>
<path d="M2992.3 2213.6H3032.3" stroke-width="16.4"/>
</g>
<g stroke="#6699FF" fill="none" stroke-linejoin="round">
<path d="M3064.3 1791.6V2109.3M3064.3 2332.6V2478M3045.3 1791.6H3083.3M3045.3 2478H3083.3" stroke-width="8.8"/>
<rect x="3045.6" y="2113.4" width="37.4" height="215.1" stroke-width="8.2"/>
<path d="M3044.3 2222.8H3084.3" stroke-width="16.4"/>
</g>
<line x1="2069.1" y1="1673.5" x2="2121.1" y2="1673.5" stroke="#000" stroke-width="3.8"/>
<text x="2093.3" y="1681.2" font-size="54.5" text-anchor="middle" stroke="#000">*</text>
<line x1="2257.8" y1="1737.3" x2="2309.8" y2="1737.3" stroke="#000" stroke-width="3.8"/>
<text x="2282" y="1745" font-size="54.5" text-anchor="middle" stroke="#000">*</text>
<line x1="2446.5" y1="1941.5" x2="2498.5" y2="1941.5" stroke="#000" stroke-width="3.8"/>
<text x="2470.7" y="1949.2" font-size="54.5" text-anchor="middle" stroke="#000">*</text>
<line x1="2634.9" y1="1810.7" x2="2686.9" y2="1810.7" stroke="#000" stroke-width="3.8"/>
<text x="2659.1" y="1818.4" font-size="54.5" text-anchor="middle" stroke="#000">*</text>
<line x1="2823.6" y1="1819" x2="2875.6" y2="1819" stroke="#000" stroke-width="3.8"/>
<text x="2847.8" y="1826.7" font-size="54.5" text-anchor="middle" stroke="#000">*</text>
<line x1="3012.3" y1="1718" x2="3064.3" y2="1718" stroke="#000" stroke-width="3.8"/>
<text font-size="56.8" text-anchor="middle" stroke="#000" transform="translate(3038.5 1704.5) scale(0.9588 1)">ns</text>
<g stroke="#F59B42" fill="none" stroke-linejoin="round" stroke-linecap="round" stroke-width="8">
<path d="M2431.6 1556.4V1628.4"/>
<rect x="2400" y="1572.4" width="63.2" height="40" fill="#fff"/>
<path d="M2400 1592.4H2463.2"/>
</g>
<g stroke="#6699FF" fill="none" stroke-linejoin="round" stroke-linecap="round" stroke-width="8">
<path d="M2431.6 1641.7V1713.7"/>
<rect x="2400" y="1657.7" width="63.2" height="40" fill="#fff"/>
<path d="M2400 1677.7H2463.2"/>
</g>
<text font-size="56.3" stroke="#000" transform="translate(2491.5 1611.3) scale(0.9588 1)">DEA</text>
<text font-size="56.3" stroke="#000" transform="translate(2491.5 1696.5) scale(0.9588 1)">EEA</text>
<rect x="1982.2" y="1503" width="1169.3" height="1026.5" fill="none" stroke="#000" stroke-width="2.3"/>
<line x1="1963.2" y1="1530.8" x2="1982.2" y2="1530.8" stroke="#000" stroke-width="2.3"/>
<text x="1937.7" y="1549.3" font-size="53.5" text-anchor="end" stroke="#000">10.0</text>
<line x1="1963.2" y1="1767.8" x2="1982.2" y2="1767.8" stroke="#000" stroke-width="2.3"/>
<text x="1937.7" y="1786.3" font-size="53.5" text-anchor="end" stroke="#000">7.5</text>
<line x1="1963.2" y1="2006.3" x2="1982.2" y2="2006.3" stroke="#000" stroke-width="2.3"/>
<text x="1937.7" y="2024.8" font-size="53.5" text-anchor="end" stroke="#000">5.0</text>
<line x1="1963.2" y1="2244.6" x2="1982.2" y2="2244.6" stroke="#000" stroke-width="2.3"/>
<text x="1937.7" y="2263.1" font-size="53.5" text-anchor="end" stroke="#000">2.5</text>
<line x1="1963.2" y1="2482" x2="1982.2" y2="2482" stroke="#000" stroke-width="2.3"/>
<text x="1937.7" y="2500.5" font-size="53.5" text-anchor="end" stroke="#000">0</text>
<line x1="2094.8" y1="2529.5" x2="2094.8" y2="2549" stroke="#000" stroke-width="2.3"/>
<line x1="2283.5" y1="2529.5" x2="2283.5" y2="2549" stroke="#000" stroke-width="2.3"/>
<line x1="2472.2" y1="2529.5" x2="2472.2" y2="2549" stroke="#000" stroke-width="2.3"/>
<line x1="2660.6" y1="2529.5" x2="2660.6" y2="2549" stroke="#000" stroke-width="2.3"/>
<line x1="2849.3" y1="2529.5" x2="2849.3" y2="2549" stroke="#000" stroke-width="2.3"/>
<line x1="3038" y1="2529.5" x2="3038" y2="2549" stroke="#000" stroke-width="2.3"/>
<text font-size="56.8" text-anchor="end" stroke="#000" transform="translate(2119 2596) rotate(-45) scale(0.9588 1)">Promoter</text>
<text font-size="56.8" text-anchor="end" stroke="#000" transform="translate(2159 2636) rotate(-45) scale(0.9588 1)">(+2 kb)</text>
<text font-size="56.8" text-anchor="end" stroke="#000" transform="translate(2308.5 2595) rotate(-45) scale(0.9588 1)">5' UTR</text>
<text font-size="56.8" text-anchor="end" stroke="#000" transform="translate(2496.5 2595) rotate(-45) scale(0.9588 1)">Exon</text>
<text font-size="56.8" text-anchor="end" stroke="#000" transform="translate(2685.5 2595) rotate(-45) scale(0.9588 1)">Inton</text>
<text font-size="56.8" text-anchor="end" stroke="#000" transform="translate(2874.5 2595) rotate(-45) scale(0.9588 1)">3' UTR</text>
<text font-size="56.8" text-anchor="end" stroke="#000" transform="translate(3063.5 2595) rotate(-45) scale(0.9588 1)">–2 kb</text>
<text font-size="56.8" text-anchor="middle" stroke="#000" transform="translate(1794.8 2015.6) rotate(-90) scale(0.9588 1)">SNP/100 bp</text>
<line x1="1981.3" y1="2791" x2="3151.3" y2="2791" stroke="#000" stroke-width="11.5"/>
<rect x="2170.2" y="2776.2" width="790.5" height="28.6" fill="#33CC33" stroke="#1a4d1a" stroke-width="2"/>
<path d="M2368.3 2749.8H2571L2604.5 2791.2L2571 2832.8H2368.3Z" fill="#33CC33" stroke="#000" stroke-width="4" stroke-linejoin="miter"/>
<path d="M2739.5 2749.8H2780.2L2814.5 2791.2L2780.2 2832.8H2739.5Z" fill="#33CC33" stroke="#000" stroke-width="4" stroke-linejoin="miter"/>
<path d="M2763.6 2746L2752.6 2788.5H2768.4L2757.6 2837" fill="none" stroke="#fff" stroke-width="6.4" stroke-linejoin="miter"/>
<!-- panel e -->
<text font-size="100" font-weight="bold" stroke="#000" transform="translate(3232.9 1476.1) scale(0.6292 0.6200)">e</text>
<rect x="3317.2" y="1528.1" width="65.9" height="1027.5" fill="#E5E5E5"/>
<rect x="3381" y="2555.6" width="1029.2" height="65.1" fill="#D7E5AC"/>
<path d="M3611.6 1793.4 H3990 C4080 1793.4 4121.2 1830 4121.2 1930 V2241 H4219 L4021 2432 L3823 2241 H3934.6 V1969.7 H3611.6 Z" fill="#E5E5E5"/>
<g stroke="#000" stroke-opacity="0.5" stroke-width="3.9" fill="none">
<rect x="3385" y="1530.5" width="1023.3" height="1023.2"/>
<path d="M3640.2 1532.5V2551.8"/>
<path d="M3896.5 1532.5V2551.8"/>
<path d="M4151.9 1532.5V2551.8"/>
<path d="M3386.9 1786.1H4406.4"/>
<path d="M3386.9 2042.2H4406.4"/>
<path d="M3386.9 2298H4406.4"/>
<path d="M3385 1530.5L4408.3 2553.7"/>
</g>
<circle cx="3768" cy="1658.5" r="108.5" fill="#F59B42"/>
<path d="M3768 1658.5L3768 1550A108.5 108.5 0 1 1 3707.6 1748.6Z" fill="#6699FF"/>
<text x="3711.8" y="1653.9" font-size="33.5" text-anchor="middle" stroke="#000" style="stroke-width:.15px;letter-spacing:2.6px">41%</text>
<text x="3816.7" y="1690.8" font-size="33.5" text-anchor="middle" stroke="#000" style="stroke-width:.15px">59%</text>
<circle cx="4022.7" cy="1658.4" r="85" fill="#F59B42"/>
<path d="M4022.7 1658.4L4022.7 1573.4A85 85 0 1 1 3941.9 1684.7Z" fill="#6699FF"/>
<text x="3983.5" y="1647" font-size="33.5" text-anchor="middle" stroke="#000" style="stroke-width:.15px">30%</text>
<text x="4052.8" y="1696.3" font-size="33.5" text-anchor="middle" stroke="#000" style="stroke-width:.15px">70%</text>
<circle cx="4279.8" cy="1658" r="79.5" fill="#F59B42"/>
<path d="M4279.8 1658L4279.8 1578.5A79.5 79.5 0 1 1 4212.7 1700.6Z" fill="#6699FF"/>
<text x="4244.2" y="1651.6" font-size="33.5" text-anchor="middle" stroke="#000" style="stroke-width:.15px;letter-spacing:2.6px">34%</text>
<text x="4314.9" y="1688.5" font-size="33.5" text-anchor="middle" stroke="#000" style="stroke-width:.15px">66%</text>
<circle cx="3512.7" cy="1915" r="111.5" fill="#F59B42"/>
<path d="M3512.7 1915L3512.7 1803.5A111.5 111.5 0 1 1 3442.7 2001.8Z" fill="#6699FF"/>
<text x="3451.1" y="1916.4" font-size="33.5" text-anchor="middle" stroke="#000" style="stroke-width:.15px">40%</text>
<text x="3563.7" y="1949.7" font-size="33.5" text-anchor="middle" stroke="#000" style="stroke-width:.15px">60%</text>
<circle cx="4023.7" cy="1914.1" r="83.6" fill="#F59B42"/>
<path d="M4023.7 1914.1L4023.7 1830.5A83.6 83.6 0 1 1 3942.7 1893.3Z" fill="#6699FF"/>
<text x="3997.2" y="1893.2" font-size="33.5" text-anchor="middle" stroke="#000" style="stroke-width:.15px;letter-spacing:2.6px">21%</text>
<text x="4046" y="1958.3" font-size="33.5" text-anchor="middle" stroke="#000" style="stroke-width:.15px">79%</text>
<circle cx="4279.8" cy="1914.6" r="78.6" fill="#F59B42"/>
<path d="M4279.8 1914.6L4279.8 1836A78.6 78.6 0 1 1 4201.4 1909.7Z" fill="#6699FF"/>
<text x="4243.8" y="1900" font-size="33.5" text-anchor="middle" stroke="#000" style="stroke-width:.15px">24%</text>
<text x="4307.1" y="1957" font-size="33.5" text-anchor="middle" stroke="#000" style="stroke-width:.15px;letter-spacing:2.6px">76%</text>
<circle cx="3512.7" cy="2169.9" r="79.3" fill="#F59B42"/>
<path d="M3512.7 2169.9L3512.7 2090.6A79.3 79.3 0 1 1 3435.9 2189.6Z" fill="#6699FF"/>
<text x="3474.4" y="2157.1" font-size="33.5" text-anchor="middle" stroke="#000" style="stroke-width:.15px">29%</text>
<text x="3540.5" y="2205.9" font-size="33.5" text-anchor="middle" stroke="#000" style="stroke-width:.15px">71%</text>
<circle cx="3768" cy="2169.9" r="79.8" fill="#F59B42"/>
<path d="M3768 2169.9L3768 2090.1A79.8 79.8 0 1 1 3690.7 2150.1Z" fill="#6699FF"/>
<text x="3731.9" y="2153.9" font-size="33.5" text-anchor="middle" stroke="#000" style="stroke-width:.15px">21%</text>
<text x="3789.8" y="2208.2" font-size="33.5" text-anchor="middle" stroke="#000" style="stroke-width:.15px">79%</text>
<circle cx="4279.8" cy="2169.9" r="107.8" fill="#F59B42"/>
<path d="M4279.8 2169.9L4279.8 2062.1A107.8 107.8 0 0 1 4328.1 2266.3Z" fill="#6699FF"/>
<text x="4235.1" y="2196.8" font-size="33.5" text-anchor="middle" stroke="#000" style="stroke-width:.15px;letter-spacing:2.6px">58%</text>
<text x="4326.8" y="2175.8" font-size="33.5" text-anchor="middle" stroke="#000" style="stroke-width:.15px">42%</text>
<circle cx="3512.7" cy="2427" r="79.8" fill="#F59B42"/>
<path d="M3512.7 2427L3512.7 2347.2A79.8 79.8 0 1 1 3448.4 2474.3Z" fill="#6699FF"/>
<text x="3471.2" y="2422.8" font-size="33.5" text-anchor="middle" stroke="#000" style="stroke-width:.15px">36%</text>
<text x="3545.9" y="2457.9" font-size="33.5" text-anchor="middle" stroke="#000" style="stroke-width:.15px">64%</text>
<circle cx="3768" cy="2427" r="79.8" fill="#F59B42"/>
<path d="M3768 2427L3768 2347.2A79.8 79.8 0 1 1 3689.6 2442Z" fill="#6699FF"/>
<text x="3725.1" y="2423.7" font-size="33.5" text-anchor="middle" stroke="#000" style="stroke-width:.15px">28%</text>
<text x="3802.9" y="2461.1" font-size="33.5" text-anchor="middle" stroke="#000" style="stroke-width:.15px;letter-spacing:2.6px">72%</text>
<circle cx="4023.7" cy="2427" r="103.7" fill="#F59B42"/>
<path d="M4023.7 2427L4023.7 2323.3A103.7 103.7 0 0 1 4083.6 2511.7Z" fill="#6699FF"/>
<text x="3982.1" y="2457.9" font-size="33.5" text-anchor="middle" stroke="#000" style="stroke-width:.15px;letter-spacing:2.6px">61%</text>
<text x="4066" y="2426" font-size="33.5" text-anchor="middle" stroke="#000" style="stroke-width:.15px">39%</text>
<rect x="3430.2" y="1459.7" width="54" height="54.3" fill="#F59B42"/>
<rect x="3908" y="1459.7" width="54.2" height="54.3" fill="#6699FF"/>
<text font-size="56.3" stroke="#000" transform="translate(3509.5 1507) scale(0.9588 1)">Synonymous</text>
<text font-size="56.3" stroke="#000" transform="translate(3987 1507) scale(0.9588 1)">Nonsynonymous</text>
<text font-size="56.8" text-anchor="middle" stroke="#000" transform="translate(3350.4 1696.3) scale(0.9588 1)">A</text>
<text font-size="56.8" text-anchor="middle" stroke="#000" transform="translate(3350.4 1951.5) scale(0.9588 1)">G</text>
<text font-size="56.8" text-anchor="middle" stroke="#000" transform="translate(3350.4 2207.2) scale(0.9588 1)">C</text>
<text font-size="56.8" text-anchor="middle" stroke="#000" transform="translate(3350.4 2463.9) scale(0.9588 1)">T</text>
<text font-size="56.8" text-anchor="middle" stroke="#000" transform="translate(3531 2605.2) scale(0.9588 1)">A</text>
<text font-size="56.8" text-anchor="middle" stroke="#000" transform="translate(3784.8 2605.2) scale(0.9588 1)">G</text>
<text font-size="56.8" text-anchor="middle" stroke="#000" transform="translate(4041 2605.2) scale(0.9588 1)">C</text>
<text font-size="56.8" text-anchor="middle" stroke="#000" transform="translate(4299 2605.2) scale(0.9588 1)">T</text>
<text font-size="56.8" text-anchor="middle" fill="#7A8C45" stroke="#7A8C45" transform="translate(3888.5 2681.3) scale(0.9588 1)">HY/HH</text>
<text font-size="56.8" text-anchor="middle" stroke="#000" transform="translate(3281 2040) rotate(-90) scale(0.9588 1)">Reference genome</text>
</svg>
</body></html>
